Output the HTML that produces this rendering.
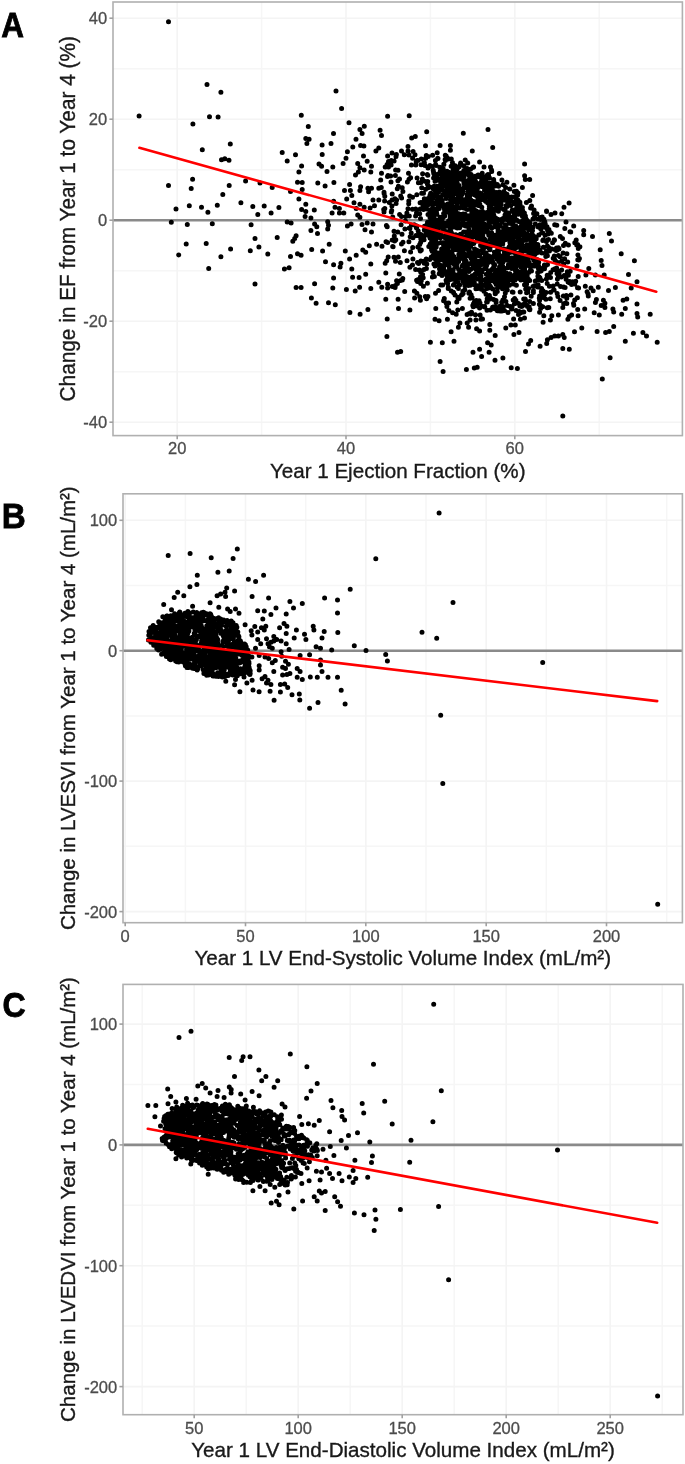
<!DOCTYPE html><html><head><meta charset="utf-8"><style>html,body{margin:0;padding:0;background:#fff;}svg{display:block}text{font-family:"Liberation Sans", sans-serif;}</style></head><body>
<svg width="685" height="1464" viewBox="0 0 685 1464">
<defs><filter id="bl" x="0" y="0" width="685" height="1464" filterUnits="userSpaceOnUse"><feGaussianBlur stdDeviation="0.75"/></filter></defs>
<rect width="685" height="1464" fill="#fff"/>
<g filter="url(#bl)">
<line x1="261.6" y1="2" x2="261.6" y2="435.6" stroke="#f6f6f6" stroke-width="1.5"/>
<line x1="430.4" y1="2" x2="430.4" y2="435.6" stroke="#f6f6f6" stroke-width="1.5"/>
<line x1="599.2" y1="2" x2="599.2" y2="435.6" stroke="#f6f6f6" stroke-width="1.5"/>
<line x1="113" y1="68.7" x2="682.4" y2="68.7" stroke="#f6f6f6" stroke-width="1.5"/>
<line x1="113" y1="169.7" x2="682.4" y2="169.7" stroke="#f6f6f6" stroke-width="1.5"/>
<line x1="113" y1="270.7" x2="682.4" y2="270.7" stroke="#f6f6f6" stroke-width="1.5"/>
<line x1="113" y1="371.7" x2="682.4" y2="371.7" stroke="#f6f6f6" stroke-width="1.5"/>
<line x1="177.2" y1="2" x2="177.2" y2="435.6" stroke="#f4f4f4" stroke-width="1.6"/>
<line x1="346" y1="2" x2="346" y2="435.6" stroke="#f4f4f4" stroke-width="1.6"/>
<line x1="514.8" y1="2" x2="514.8" y2="435.6" stroke="#f4f4f4" stroke-width="1.6"/>
<line x1="113" y1="18.2" x2="682.4" y2="18.2" stroke="#f4f4f4" stroke-width="1.6"/>
<line x1="113" y1="119.2" x2="682.4" y2="119.2" stroke="#f4f4f4" stroke-width="1.6"/>
<line x1="113" y1="220.2" x2="682.4" y2="220.2" stroke="#f4f4f4" stroke-width="1.6"/>
<line x1="113" y1="321.2" x2="682.4" y2="321.2" stroke="#f4f4f4" stroke-width="1.6"/>
<line x1="113" y1="422.2" x2="682.4" y2="422.2" stroke="#f4f4f4" stroke-width="1.6"/>
<line x1="113" y1="220.2" x2="682.4" y2="220.2" stroke="#8a8a8a" stroke-width="2.6"/>
<path d="M168.5 21.7h0M207 84.4h0M220.9 92.2h0M139.1 116h0M209.5 116.8h0M218.1 117.1h0M192.9 124.1h0M301.3 115.2h0M230.3 144h0M336 91h0M341.6 108.5h0M387.6 116.3h0M409.2 115.7h0M349 122.7h0M308.3 126.5h0M333.5 133.5h0M359.9 129.6h0M364.3 126.3h0M362.1 133.5h0M356 139.3h0M380.1 130.2h0M381.5 135.4h0M305.8 138.5h0M309.1 139.3h0M306.9 143.5h0M322.1 144.9h0M331 143.5h0M411.7 137.9h0M415.3 136.5h0M426.7 131.8h0M463.3 133.2h0M488 129.6h0M202.3 149.8h0M221.5 159.8h0M224.8 158.7h0M229 160.3h0M282.2 152.5h0M287.2 160.9h0M295.5 154.8h0M301.6 165.9h0M298.9 172h0M192.6 179.2h0M168.5 185.6h0M191.2 188.6h0M229.2 185.6h0M245.6 181.1h0M260 183.1h0M272.2 187.5h0M290.5 191.4h0M297.5 182.2h0M302.2 182.5h0M222.8 194.4h0M298.9 198.9h0M176 209.1h0M189.3 205.8h0M201.5 207.2h0M207.9 212.2h0M217.3 205.3h0M240.9 202.8h0M252.8 206.4h0M257.8 214.4h0M264.2 206.1h0M271.1 213h0M278.9 207.5h0M301.6 209.4h0M171.3 222.2h0M187.3 224.4h0M212.3 223.8h0M251.1 224.7h0M287.2 221.9h0M291.1 223h0M255 238.5h0M277.2 237.4h0M292.8 241.3h0M294.7 238.5h0M296.1 235.8h0M186.2 244.1h0M206.2 243.5h0M230.6 249.1h0M178.7 254.9h0M220.9 256.8h0M250.3 250.7h0M258.9 246.9h0M267.8 254.1h0M290.5 256.6h0M297.5 253.8h0M301.1 255.2h0M208.7 268.5h0M284.4 269.1h0M289.1 267.7h0M255 284h0M296.1 287.6h0M301.1 287.6h0M322.2 154.6h0M319 164.1h0M321.6 166.3h0M327 171.4h0M332.8 167h0M317.8 183.1h0M325.1 186h0M333.9 182.6h0M302.2 189.6h0M305.8 204.2h0M305.8 211.5h0M314.3 210.1h0M333.6 201.3h0M335 207.2h0M339.4 208.6h0M332.1 213h0M339.4 213h0M343.8 213h0M352.8 147h0M360.6 145.5h0M363.9 146.1h0M347.4 151.7h0M346 158.2h0M343.1 163.4h0M363.5 156.1h0M367.2 161.2h0M357.7 163.4h0M359.9 167.7h0M355.5 175h0M358.4 172.1h0M364.2 169.9h0M371.5 166.3h0M370.8 172.1h0M378.8 148h0M375.9 150.9h0M387.6 156.1h0M392 153.1h0M396.4 154.6h0M349.6 184.5h0M350.4 190.4h0M344.5 190.4h0M351.8 195.5h0M346.7 199.1h0M360.6 186.7h0M359.9 190.4h0M367.9 188.2h0M371.5 188.2h0M368.6 191.8h0M378.8 188.2h0M378.8 199.9h0M373 199.9h0M354 202.8h0M359.9 204.2h0M364.2 207.2h0M370.1 207.9h0M374.5 205.7h0M356.2 208.6h0M408 146.6h0M408 150.9h0M401.5 150.9h0M425.5 145.8h0M440.1 145.5h0M450.4 145.5h0M450.4 150.2h0M472.3 150.9h0M492.7 147.6h0M437.2 152.8h0M445.3 155.3h0M479.6 161.9h0M490.5 167h0M499.3 173.6h0M305.1 216.6h0M310.9 218h0M314.6 223.9h0M316.8 226.8h0M310.9 230.4h0M317.5 233.4h0M327.7 221.7h0M328.5 225.3h0M327.7 229h0M347.4 226.1h0M351.1 223.9h0M362 224.6h0M365 229.7h0M367.2 223.1h0M373 223.9h0M371.5 231.9h0M376.6 244.3h0M369.3 245.8h0M362.8 250.1h0M365.7 252.3h0M329.2 244.3h0M311.7 249.4h0M322.6 250.9h0M345.3 250.9h0M356.2 255.3h0M349.6 258.9h0M325.5 261.8h0M333.6 264.7h0M340.9 263.3h0M340.1 266.9h0M351.8 269.1h0M370.8 264h0M333.6 277.9h0M352.6 277.2h0M359.1 277.4h0M365.7 274.2h0M314.6 283.7h0M378.8 282.3h0M357.7 215.1h0M359.9 217.3h0M332.8 287.9h0M346.4 289.4h0M355.2 291.1h0M359.6 287.2h0M370.8 288.6h0M381.8 287.2h0M387.6 287.9h0M311.4 298.1h0M316.1 303.2h0M328.5 302.8h0M335.3 304.7h0M349.9 312.4h0M360.1 314.2h0M367.9 309.5h0M385.8 299.2h0M398.1 299.2h0M398.5 308.4h0M387.2 318.9h0M386.9 336.4h0M397.5 352.2h0M440.1 361.4h0M443.1 371.6h0M466.4 369.6h0M474.3 368.1h0M477.2 367.3h0M481.6 356.5h0M495 360.3h0M409.9 310.1h0M414.6 298.1h0M419.7 296.7h0M420.4 300.3h0M435.8 308.4h0M435 319.3h0M439.1 320.8h0M447.4 319.3h0M448.9 310.5h0M452.6 312.7h0M456.2 314.2h0M481 319.3h0M475.9 320h0M470.1 320h0M467.2 323h0M468.6 327.3h0M459.9 323h0M458.4 327.3h0M476.6 328.8h0M479.6 331h0M489.8 324.4h0M489.8 330.3h0M451.1 331.7h0M495.2 335.4h0M430.4 342.2h0M442.3 342.7h0M454 341.2h0M487.6 342.7h0M491.2 344.9h0M479.6 349.2h0M473 352.2h0M489.1 352.2h0M400.7 351.4h0M520.4 319.3h0M543.8 315.7h0M543.1 322.2h0M550.4 320h0M551.8 315.7h0M558.4 314.9h0M562.8 307.6h0M567.9 319.3h0M569.3 316.4h0M578.1 315.7h0M584.7 309.1h0M588.3 295.9h0M594.2 312.7h0M596.4 299.6h0M599.3 314.9h0M505.8 328.1h0M510.9 325.1h0M515.3 325.1h0M513.9 334.6h0M519 332.4h0M530.7 340.5h0M528.5 344.1h0M525.5 351.4h0M540.1 346.3h0M547.4 339.7h0M546.7 343.4h0M551.1 337.6h0M554.7 336.1h0M558.4 336.1h0M562.8 334.6h0M564.2 337.6h0M562.8 348.5h0M569.3 349.2h0M574.5 331.7h0M581.8 328.1h0M597.1 331.4h0M502.9 358h0M511.2 367.8h0M517.4 368.4h0M610.1 357.7h0M602.3 379h0M562.8 415.9h0M591 287.9h0M593.2 290.8h0M598.3 287.2h0M608.5 290.5h0M615.4 287.6h0M631.2 287.9h0M595.4 302.5h0M603.4 300.3h0M604.9 303.2h0M601.2 305.4h0M604.9 307.6h0M612.9 309.1h0M613.7 312h0M621.7 314.2h0M625.3 308.4h0M623.1 300.3h0M626.8 298.9h0M637 304h0M637 313.5h0M637.7 317.1h0M650.2 314.2h0M605.6 332.4h0M609.3 331.4h0M613.7 326.6h0M633.4 333.2h0M642.9 332.4h0M646.5 336.1h0M625.3 341.2h0M657.2 342.2h0M583.7 230.4h0M583.7 234.8h0M592.5 236.6h0M609.3 233.4h0M611.5 240.9h0M600.2 249.7h0M621.2 253.8h0M601.2 260.4h0M602 265.5h0M634.4 260.8h0M588.8 268.4h0M585.9 275h0M595.4 275h0M604.2 275h0M628.5 274.5h0M637 281.8h0M524.6 164.1h0M524.6 175.8h0M525.3 179.4h0M529.7 179.4h0M522.4 187.4h0M532.6 195.5h0M564 207.2h0M569.1 203.1h0M561.8 213.7h0M566 221.9h0M573.7 226h0M576.2 240.1h0M579.9 246.7h0M394.6 241.1h0M484.2 263.1h0M452.5 239.1h0M473.5 206.1h0M529.7 301.6h0M384 212h0M513.1 284h0M391.3 160.6h0M538.2 287h0M504.8 232.5h0M440.7 236.3h0M436.2 247h0M387.1 164.6h0M435.6 164.4h0M515.8 198h0M475.4 314.8h0M409 179.3h0M568.4 245.1h0M391.9 205.9h0M452.8 196.7h0M414.3 224.8h0M469.9 313.6h0M495.5 293.5h0M493.7 180.1h0M434.7 258.6h0M507.5 228.8h0M448.6 303.1h0M498.6 186.3h0M424.4 162.7h0M394 231.3h0M422.6 274.5h0M388.5 167.1h0M538.2 285h0M463.7 281.6h0M554.1 290.1h0M541.7 280.6h0M480.1 314.9h0M521.4 253.5h0M416.8 194.7h0M454.7 174.9h0M424.1 239.7h0M431.7 211.6h0M394.9 198.7h0M498.4 211.2h0M437.6 191.4h0M547.3 307.7h0M408.7 203.7h0M537.9 276.3h0M416.2 162.1h0M451.1 184.6h0M441.2 170.7h0M561.7 270h0M492.5 187.4h0M465.5 208.4h0M486.7 265.2h0M508.7 213.1h0M523.7 264.2h0M510.5 200h0M537.3 250.6h0M473.9 184.9h0M415 154.7h0M430.1 235.2h0M416.6 209.8h0M504.8 235.4h0M421.1 164.7h0M526.8 279.1h0M487.7 286h0M475.1 273.9h0M381.5 173.3h0M483.6 176.9h0M499.2 244.3h0M563.9 287.2h0M402.8 278.6h0M384.1 193.6h0M524.5 318h0M418.4 182.8h0M457.8 310h0M441.1 217.5h0M577.6 244.4h0M463.6 231.9h0M396.6 200.1h0M453.4 263.5h0M521.9 305.1h0M409.9 228.4h0M398 170.2h0M410.6 252.1h0M485.7 181h0M558.4 255.4h0M550.6 292.3h0M494.7 308.7h0M458.7 261.5h0M468.1 186.8h0M429.8 259.4h0M415.8 164.9h0M383.7 209.6h0M417.1 160.6h0M555 213h0M468.9 229.2h0M435 265.9h0M493.6 299.5h0M477.8 302.5h0M579.4 258.5h0M404.9 228.9h0M426.9 200.1h0M577.9 254.9h0M529.2 309.2h0M491.9 221.8h0M440 217.2h0M488.4 233.3h0M404.4 250.8h0M526.1 225.5h0M563.1 253.1h0M446.1 280.3h0M446.5 282h0M497.5 287.9h0M503.2 306.4h0M540.8 270.6h0M526.3 262.8h0M425 261.4h0M527.2 259.5h0M489.7 286.7h0M419.7 244.4h0M510.8 205.4h0M501 232h0M481.3 220.1h0M509.1 219.9h0M537.7 272.6h0M486.8 282h0M526.6 284.3h0M434.5 222.2h0M525.7 289.1h0M516.4 285.2h0M392.2 240h0M397.8 232.1h0M488.6 299h0M420.5 276.7h0M499 226.6h0M409.7 196.1h0M469.8 215.4h0M415.6 269.5h0M476.7 241.1h0M420.7 272h0M496.1 243.4h0M470.3 200.9h0M540.1 305h0M519.2 311.5h0M507.1 260.1h0M437.7 158.3h0M482.2 173.3h0M502.9 236h0M491.7 171.4h0M452.4 162.6h0M434.8 232.7h0M387.2 226.8h0M452.7 201.7h0M412.9 258.9h0M431.3 256.9h0M556.1 261.6h0M474.6 210h0M542.2 217h0M491.8 208.4h0M550.4 232.4h0M498 232.3h0M454.3 180.2h0M384.6 201h0M411.2 233h0M487.7 188.1h0M423 205.6h0M399.6 214.6h0M570 231.7h0M409.3 216h0M446.2 302.9h0M547.4 255.8h0M513.9 185.2h0M572.6 281.7h0M521.8 224.3h0M412.5 197.3h0M499.3 203.7h0M447 175.7h0M462.7 250.9h0M429.9 165.5h0M521.9 267.5h0M399.3 273.9h0M450.5 235.1h0M386.7 260.7h0M397.4 283.6h0M385.2 166.9h0M445.6 257h0M523.9 225.3h0M456.9 235.3h0M562.5 238.5h0M506.1 234.7h0M568.4 275.2h0M487 228h0M485.4 201.1h0M518 204.6h0M400.7 196h0M412.5 209.2h0M452.9 170.9h0M427.8 175.2h0M507 206.5h0M401.5 243.9h0M472.8 305.4h0M476.8 255.1h0M441.2 217.7h0M549.4 286.2h0M455.4 200.4h0M440 200.9h0M438.1 200.9h0M489.8 222h0M417.9 247h0M470 252.6h0M492.7 262h0M405.4 221.1h0M432.4 276.9h0M523.8 312.1h0M553.1 286h0M421.3 159.1h0M411.4 224.9h0M513.2 299.9h0M420.9 234.5h0M401.5 216.5h0M534.1 236.6h0M476.8 273.9h0M564.6 258.8h0M410.6 177.7h0M526.4 305.1h0M402.2 187.7h0M408 208.8h0M518 192.9h0M462.4 308.6h0M387.5 176.4h0M490.2 239.3h0M483.3 225.8h0M467.1 194.9h0M486 294.2h0M501.9 179.9h0M412.7 247.5h0M417.4 281.5h0M495.6 307.1h0M409.3 228.1h0M535.3 281h0M537.6 286.9h0M540.6 308.4h0M435.5 293.2h0M521.6 266.5h0M410.2 236.8h0M445.6 205.1h0M421.3 280.8h0M458.3 223.2h0M529.9 309.3h0M411.4 165.1h0M539.6 296.1h0M414.4 291h0M529.8 200.5h0M502.1 309h0M540.7 308h0M442 275.5h0M391.7 210.5h0M395.4 285.6h0M519.3 263.8h0M482 269.8h0M455.1 182.3h0M533.4 292.4h0M563.5 245.5h0M574.8 242.7h0M460.6 173.2h0M395.4 175.4h0M416.5 213.1h0M556.8 269.5h0M489.2 205.5h0M508 312.5h0M474.5 305.5h0M407.4 181.9h0M386.4 225.4h0M519.6 202.1h0M395.8 239.8h0M511.6 196.9h0M513.6 319h0M469.4 180.9h0M546.3 252.9h0M545.9 299.2h0M550.3 298.7h0M434.9 256.3h0M453.4 285h0M511 241.4h0M452.6 240.1h0M403 242.3h0M533 286.5h0M393.1 246.8h0M408.5 173.3h0M554.5 240.1h0M568.1 282h0M492.4 268.9h0M450 212.1h0M399.5 178.9h0M396 156.6h0M416.8 225.9h0M570.2 271.2h0M522.6 210.5h0M404.3 154.7h0M472.4 275.9h0M485.2 215.5h0M437.1 200.7h0M524.5 275.6h0M409.9 267.2h0M398.4 186.2h0M512.3 292h0M551 214.4h0M386 241.7h0M452.4 236.8h0M469.5 292h0M413.1 151.6h0M484.5 190.3h0M505.5 225.1h0M545.7 265.4h0M428 214.6h0M392.3 286.4h0M394.3 235.9h0M435 181.2h0M538 266.8h0M446.6 255.7h0M532 266h0M492.7 216.1h0M511.8 231.3h0M452.5 173.3h0M389.3 202.5h0M554.9 259.9h0M429.9 186.9h0M565.3 243.3h0M381.3 187.6h0M479.8 272.2h0M506.9 182.2h0M527.2 276.1h0M417.7 235.5h0M416.9 293.2h0M428.2 227.9h0M578.6 260h0M557.9 296.6h0M474.1 226.6h0M388.2 257h0M491.5 170.1h0M435.4 180.3h0M547.5 264.5h0M525.6 218.4h0M545.2 223.7h0M448.1 182.1h0M539.8 250.3h0M490.3 219.8h0M522.2 228.2h0M450.8 189.4h0M401.6 197.9h0M468.9 271.6h0M453.1 165.6h0M487.5 188.4h0M546.6 211.5h0M571.6 284.6h0M391.1 164.9h0M516.7 220.1h0M417.1 178.1h0M406.9 213h0M441 232.7h0M513.7 235.1h0M539.4 304.3h0M456.7 213.2h0M416 235.4h0M561.3 276.9h0M459.7 227.4h0M473.6 201.6h0M503.6 228.1h0M556.6 268.1h0M429.8 210.6h0M452.9 180.9h0M525.4 215.9h0M509 236.1h0M503.8 191.6h0M497.3 291.4h0M500.1 260.6h0M514.3 191.6h0M478.1 175.1h0M543.5 223.4h0M467.1 314.4h0M476.8 266.8h0M382 246.2h0M563.6 264h0M465.2 160h0M453.6 292.8h0M554.5 268.9h0M546.4 251.5h0M578.3 248.6h0M512.7 222.6h0M395.6 170h0M522.6 263.3h0M486.5 287.2h0M400.7 280.5h0M456.2 223.2h0M432.6 155.3h0M524.5 284.8h0M412.6 158.3h0M469.3 293.2h0M518.4 214.2h0M426.6 298.7h0M439.1 264.7h0M529.2 262.4h0M417.8 160.4h0M522.5 271.4h0M567.7 262h0M433.6 238.3h0M513.8 231.6h0M560.6 286.6h0M384 192.3h0M521.5 306.6h0M523.4 230.4h0M439.1 253h0M500.6 262.4h0M474.3 282.4h0M396.1 203.4h0M448.4 193.6h0M504.5 296.7h0M516.5 191.2h0M407 260.7h0M539.3 277.5h0M512.4 245.9h0M434.7 242.5h0M503 307.2h0M462.9 291.2h0M417.5 262.4h0M554.7 224.8h0M461.7 277.5h0M418.1 279.6h0M504.4 310.5h0M493.6 263.8h0M535 214.7h0M529.8 309.7h0M548 233.9h0M482.7 223.7h0M423.1 261.4h0M540.7 228.8h0M467 255.2h0M395.1 287.4h0M453.4 292.2h0M385.8 272.9h0M392.7 217h0M444.3 298.6h0M457.2 182.9h0M428 168h0M497.4 257.5h0M415.6 215.9h0M495.7 280.4h0M474.7 248.9h0M470.4 177h0M547.2 277.3h0M539.7 270.5h0M450.2 258.6h0M570.7 231.9h0M566.9 253.7h0M462.9 241.7h0M458.6 226.7h0M547.2 283.6h0M423.2 277.7h0M447.1 171.2h0M576.9 266.1h0M502.9 266.8h0M479.7 285.6h0M390.4 164.8h0M396.6 280.8h0M482.8 236.5h0M541.2 270.7h0M443.9 236.4h0M449.8 224.5h0M524.2 248.8h0M462.5 214.3h0M540.3 217.5h0M530.2 252.2h0M532.8 265.3h0M408.8 201.1h0M459.6 227.8h0M537.3 260.6h0M471.5 312.3h0M542.9 232.9h0M413 237.8h0M435.4 160.4h0M480 302.9h0M473.7 243.4h0M524.7 268.2h0M499.5 268.9h0M556.8 225.2h0M451.3 290.9h0M380.7 179.9h0M482.5 319.1h0M484 166.9h0M522.8 312.1h0M548.8 307.6h0M463.6 281.5h0M530.6 208.1h0M574.7 283.9h0M543.9 297.8h0M430.3 199h0M577.5 287.8h0M465.1 271.1h0M558.3 274.9h0M477.9 288.5h0M444.1 177.7h0M525.4 299.8h0M481.4 289.3h0M438.6 290.4h0M534.2 217.7h0M544.8 221.8h0M397.3 188.7h0M423.4 286.3h0M497.8 249.7h0M456.8 301.9h0M438.8 235.1h0M527.4 223.9h0M390.6 176.1h0M544.5 268.7h0M481.8 207.2h0M434.4 176.1h0M518.5 314.5h0M509.3 216.1h0M454.7 182.7h0M528.6 229.8h0M465 224.3h0M445.9 185.8h0M392.7 246.5h0M539.4 279.9h0M553 269.7h0M392.2 193.9h0M468.3 314.1h0M489 195.9h0M519.5 206.5h0M490.4 298.1h0M564.8 228.4h0M541.7 232.7h0M506 200.4h0M391.3 211.9h0M464.3 176h0M537.8 279.7h0M475.2 255.7h0M443 260h0M486.4 217.7h0M546.5 211h0M525.1 280.6h0M408.9 241.8h0M455 295.1h0M577.8 259.8h0M388.5 161.5h0M467.7 162.9h0M492.8 288.9h0M391 182h0M502.6 218.7h0M576.7 245.1h0M563.4 296h0M466 282.3h0M412.5 264.9h0M409 155h0M506.8 289h0M416.6 280.2h0M542.7 306.8h0M499.7 282.4h0M487.1 175.2h0M476.8 195.6h0M420.9 261h0M547.2 240.2h0M416.7 228h0M394.1 161.1h0M451.4 232.8h0M500.7 193h0M463.3 238.8h0M455.4 185.1h0M425.3 296.5h0M448.6 172.3h0M527.6 281h0M405.8 216.6h0M491.8 260h0M469.7 236.1h0M496.2 284.5h0M502 311.1h0M398.3 256.9h0M418.6 263.4h0M469.4 176h0M427.9 296.5h0M446.9 306.6h0M475.4 181h0M470.8 314h0M482.9 252.4h0M509.9 242.3h0M457.4 278.1h0M479.6 307.9h0M557.5 270.6h0M548.5 239.6h0M520.2 292h0M436.1 239.2h0M436.9 188.1h0M467 233h0M394 257.2h0M529 236.5h0M433.2 209.3h0M384.8 196.2h0M560.3 236.4h0M520.4 313.1h0M416.4 227.7h0M420.7 283.6h0M424.2 263.3h0M539.6 312.2h0M451.1 166.2h0M421.3 250.1h0M402.3 280.1h0M490.2 245.9h0M395.5 261.2h0M506.7 218.5h0M498.4 251.6h0M570.9 294.9h0M448.7 225.5h0M415.7 208.9h0M449.2 279.9h0M529.1 306.8h0M459.6 192.8h0M418.2 231.1h0M455.4 207.2h0M426.3 155.5h0M526.5 256.5h0M490.1 183h0M385.2 263.3h0M486.6 302.1h0M470.9 256.4h0M420.6 242.6h0M449.5 279.2h0M481.8 246.1h0M539.3 298.3h0M500.8 197.6h0M502.1 257.2h0M441.1 180.2h0M458 173.5h0M471.5 238.5h0M455.9 218h0M470.1 194.3h0M397.9 180.7h0M387.6 242.4h0M522.4 229.5h0M496.9 259.1h0M515.4 270.5h0M567.3 271.8h0M541.3 291.7h0M482.9 177.8h0M526.1 224.5h0M479.8 239.9h0M505.9 301.5h0M463.5 224.2h0M440.5 253.8h0M404.7 291.5h0M402.9 191.5h0M472.1 297.5h0M481.4 219.4h0M578.2 276.6h0M520.5 252.1h0M424 269.4h0M550.7 272.6h0M468.9 293.3h0M427.4 283.2h0M468.1 199h0M456.8 180.2h0M557.2 293.6h0M400.3 262.4h0M401.1 224.8h0M402 234.3h0M548.9 229.4h0M384.8 208.6h0M463.1 293.5h0M388 175.6h0M485.9 265.3h0M534.3 285.8h0M419.5 270h0M506.3 273.1h0M443.6 300.8h0M493.5 267.5h0M387.6 284.2h0M537.7 244.6h0M459.1 298.6h0M392 199.9h0M534.6 240.3h0M439.9 199.4h0M457.3 263.1h0M491 197.5h0M513 292.3h0M486 283.7h0M451.8 225.3h0M499.3 194.2h0M496 300.6h0M473.4 242.4h0M470.2 184.2h0M522.5 216.4h0M507.3 305.5h0M420.2 250.6h0M458.4 288.4h0M480.8 227.2h0M425.6 189.2h0M453.5 177.3h0M497.4 310.8h0M482.2 215.5h0M516.3 276.1h0M495.4 245.8h0M464.3 271.5h0M538.3 246.8h0M472 276h0M493.6 179.5h0M419.9 249.4h0M519.9 306.1h0M445.1 207.5h0M479.4 269.4h0M518.7 221.6h0M530.1 223.3h0M560.1 256.8h0M509.5 220h0M491 259.6h0M539.9 277.8h0M441 242.6h0M517 192.8h0M467.4 254.7h0M465 274.7h0M422.6 173.8h0M522.4 207.6h0M487.1 288.4h0M523.7 298.9h0M542.8 240.4h0M540.3 297.6h0M471.5 188.7h0M470 278.4h0M501.1 204.2h0M524.6 248.8h0M434.2 218.3h0M497.3 310.2h0M455.8 210.7h0M533.1 236.8h0M468.9 255.9h0M446.9 189.9h0M499.7 245.1h0M475.3 255.6h0M454.5 237.4h0M499.2 275.4h0M420.3 251.1h0M483.1 242.4h0M425.9 231.9h0M425.7 158.2h0M439.8 167.3h0M520.8 256.4h0M509.9 197.4h0M434.8 174.7h0M488.7 283.4h0M529.8 246.2h0M434 203.9h0M497.5 279.8h0M485.3 256.2h0M437.5 179.1h0M427.1 224.5h0M513 233.2h0M448.2 288.4h0M479.9 255.9h0M440 271h0M536.9 213.7h0M453.5 273.7h0M456.5 183.1h0M531.5 271h0M473.6 167h0M505 214.9h0M489.4 177.7h0M445.9 231.6h0M525.1 298.9h0M524.2 272.7h0M529.6 238.7h0M503.1 258.6h0M538.8 235.1h0M505.3 216.1h0M458 298.5h0M477 221h0M465.4 183h0M453.7 201.4h0M489.7 258.7h0M452.6 182.4h0M504.3 273.5h0M542.9 227.2h0M462 201h0M517.9 200h0M426.8 263.9h0M428.8 246.6h0M463.7 207.9h0M422.4 178.9h0M451.3 159.1h0M465.7 181.8h0M476.3 300.6h0M517.6 195.3h0M496.2 204.5h0M524.8 303.4h0M453.1 270.3h0M518.5 303.5h0M549.1 276.4h0M499.9 306.2h0M480.8 193.5h0M488.2 218.6h0M464.4 170.9h0M428.2 156.6h0M534.1 209.9h0M494.1 182.6h0M491.4 198.8h0M513.3 210.8h0M546.9 228.7h0M492.4 196.7h0M504.1 249h0M529.2 236.1h0M557.4 279h0M430.1 235h0M543.4 247.3h0M540.8 228.1h0M512.4 246.9h0M462.2 266h0M513.3 237.4h0M544.5 294.7h0M448.6 251.5h0M459.6 285h0M557.3 250.1h0M473.5 178.6h0M512.5 276.3h0M427.7 181.4h0M421 182.6h0M426.4 268.4h0M475 195h0M545.8 256.4h0M557 273.5h0M546.5 250.8h0M424.7 235.4h0M470.5 169.2h0M529.7 280.4h0M451.7 258h0M514.6 298.4h0M559 249h0M436.2 209h0M482.3 182h0M489.7 217.2h0M463.3 246.9h0M470.7 207.7h0M493.1 280.1h0M549.4 251.1h0M489.7 199.1h0M475.9 288.7h0M511.4 232.4h0M485.9 181.3h0M434.4 276.6h0M499.6 307.6h0M450.3 205.8h0M528.5 279.2h0M538.2 227.1h0M554.9 249.4h0M474.4 301.8h0M427.9 231.3h0M542.6 296h0M541.9 253.1h0M547.6 230.3h0M464.3 256.1h0M461.5 294.9h0M423.4 209.4h0M512.8 229.8h0M539.6 300.2h0M476.9 225.2h0M453.3 208.1h0M561.7 261.2h0M474.1 228h0M512.3 249.6h0M480.3 176.4h0M461.1 234.9h0M514.7 219.8h0M496.2 235.5h0M497.3 184.4h0M467 198.5h0M459.6 251.1h0M457.1 274.9h0M473.5 303.8h0M451.9 195.8h0M499.9 276h0M543 290.8h0M467.5 216.2h0M430.2 244h0M515.2 196.4h0M430 215.7h0M496.9 221h0M479.1 300.7h0M527.2 245.2h0M470 191.8h0M507.6 253.9h0M439.9 256.4h0M467.4 224.3h0M508.2 267.1h0M456.7 219h0M451 246.3h0M454.3 199.6h0M516.7 227.5h0M472 263h0M432.1 166.4h0M530.3 251.1h0M435.3 190.9h0M527.4 239.6h0M501.2 279.1h0M433.5 171.7h0M537.6 219h0M537 259.6h0M443.7 270.5h0M527.5 306.4h0M533.4 290.7h0M438 158.5h0M493.2 213.6h0M518 231.8h0M439.9 205.8h0M442.1 200.4h0M462.7 256.9h0M518.9 275.7h0M447.8 182.7h0M475.3 264.9h0M471.1 294.7h0M464.7 260.6h0M504.9 252.4h0M539.5 278.2h0M439.2 273.7h0M453.9 284.6h0M426.1 259.3h0M496.1 302.4h0M484 198.6h0M448.4 173.3h0M535.3 224.1h0M517.5 262.1h0M511.3 244.9h0M471.1 174.6h0M526.6 292.8h0M442.7 194.9h0M538.7 262.3h0M450.8 173.6h0M554.2 239.7h0M482 264.5h0M538.2 268.1h0M420.8 238.8h0M446.2 156h0M547.3 246.1h0M427.3 174.4h0M554.3 256.1h0M420.1 202.7h0M430.8 211.9h0M457 174.8h0M519.7 235.8h0M446.9 233.9h0M514.4 257.9h0M487.9 178.2h0M444.5 209.5h0M448.1 159h0M457.3 249.2h0M465.3 201.4h0M420.2 209h0M546.1 292.6h0M551.3 233.2h0M467.1 168.6h0M487.2 298.8h0M439.2 208.5h0M474.4 236.4h0M481.9 195.6h0M519 240h0M486.1 225.3h0M440.9 285h0M473 282.6h0M450 228.5h0M436.9 178.7h0M460.2 207.4h0M488 174.5h0M504.1 275.9h0M426.2 225.7h0M448.4 275.1h0M459.6 245.4h0M521.6 227.7h0M424.3 230h0M454.2 199h0M433.6 243.5h0M462.6 203.2h0M517.7 212h0M558.2 275.6h0M464.4 246.9h0M482.5 235.5h0M446.3 259.2h0M490.5 227.6h0M434.8 233.2h0M510.5 217.8h0M513 264.7h0M440.3 171.3h0M457.1 287h0M466.8 242.7h0M501.7 302.2h0M475.1 181.4h0M438 197h0M533.9 256.1h0M473.3 306.7h0M443.9 164.5h0M520 233.8h0M464.8 289.7h0M490.4 310.1h0M475.1 274.9h0M455.1 187.9h0M476.2 186.7h0M508.2 236.9h0M445.4 160.6h0M515 274.6h0M512 262.4h0M501.4 276.4h0M472.5 268.3h0M521.9 242h0M477.2 305.9h0M518.8 272.9h0M436.1 165.4h0M469.3 253.3h0M476.5 196h0M491.4 277.5h0M480.5 197.7h0M433.4 198h0M548.7 247.5h0M495.4 276.6h0M449.2 267.2h0M553.2 258.2h0M527.9 292.2h0M488.3 232.2h0M483.6 238.7h0M515.9 300.3h0M461.3 271.7h0M500.7 207.5h0M520.1 204.8h0M505.3 276.9h0M460.3 164.4h0M510.9 260.3h0M457.2 228h0M543.9 219.2h0M511.6 309.1h0M433.6 178h0M484 263h0M465.2 243.8h0M476.1 249.9h0M490.4 274h0M462.2 205h0M429.3 213.7h0M505.3 293h0M465.6 247.9h0M485.8 227h0M519.9 202.2h0M427.3 199.1h0M447.7 158.3h0M433.1 272.5h0M441.3 252.9h0M531.1 254.6h0M465.3 170.2h0M469.3 250.5h0M444.8 181h0M426.2 259h0M453.7 188.9h0M510.3 306.4h0M495.2 292.7h0M488.6 175.3h0M424.4 226.2h0M477.9 264.2h0M425.5 202.9h0M486.6 274.3h0M505.4 283.1h0M447.6 283.5h0M502.2 222h0M547.2 275.2h0M500 311h0M445.3 226.4h0M533 227.3h0M509.8 189h0M507.3 290h0M486.4 274.4h0M456.8 238.5h0M432.1 215.2h0M529.4 247.8h0M455.3 213.6h0M549.1 231.1h0M443.8 164.3h0M439.2 188.4h0M503 184.7h0M462.1 188.9h0M435.1 246.2h0M504.8 219.3h0M465.5 263.9h0M450.9 260.9h0M443.1 230.1h0M493.2 198.3h0M458.9 197.1h0M482.2 306.3h0M448.3 287.2h0M442.6 285.1h0M528 260.6h0M557.1 272.3h0M456.5 249.8h0M482.5 249.5h0M541.6 288.6h0M443.6 268.1h0M462.2 294.2h0M505.6 187.4h0M552.6 242.8h0M498.4 272.6h0M445.1 159.6h0M484 291.3h0M530.4 228.2h0M463.9 165.8h0M490.6 185.4h0M502.5 288.8h0M541.6 292.7h0M543.8 267.4h0M481.4 186.4h0M451.2 223.3h0M471 268.9h0M431.9 236.2h0M508.4 264.7h0M531.2 296.3h0M455.5 227h0M531.5 206h0M551.7 248.9h0M478.8 225.7h0M525 228.2h0M508.5 280.1h0M549 231.7h0M474.6 249.7h0M435.8 212.4h0M420.5 218.4h0M482.4 228h0M491.2 206.7h0M537.7 252.6h0M460.9 219.3h0M539.2 277.1h0M464.8 285.6h0M515.7 254.7h0M536.7 253h0M524.8 240.3h0M524.8 270.6h0M540 224.8h0M459.2 166.8h0M511.2 279.7h0M546.4 241.6h0M478.7 267.8h0M479.1 200.7h0M528.5 288.6h0M489.4 295.5h0M471.4 205.3h0M483 186.3h0M437.9 257.5h0M432.8 217.8h0M421.4 202.5h0M450.2 217.2h0M509.4 285.3h0M432.3 196h0M449.8 188.6h0M550.5 277.4h0M527.4 256h0M473.8 211.6h0M483.3 239.4h0M423.8 236.6h0M490.7 270.4h0M502.7 243.9h0M459.1 177.1h0M502.6 256.1h0M443.2 168.7h0M485.5 279.3h0M453.7 263.7h0M452.3 226.7h0M533.4 303.5h0M545.1 235.2h0M442.4 188.8h0M540.5 219.6h0M466.5 242.2h0M524.4 213.1h0M457.4 192.4h0M454.5 178.8h0M498 194.6h0M442.2 258.7h0M425.7 181.6h0M539.4 278h0M547 226.8h0M528.8 262.8h0M530.5 254h0M483.5 230.7h0M444.5 215.7h0M426.9 208.9h0M487.9 259.5h0M493.7 307h0M533 218.9h0M494.7 264.9h0M495.2 293.7h0M464.3 270.2h0M473.4 178.8h0M529.9 249h0M454.5 218.5h0M470.1 298.3h0M427.5 222.3h0M487.6 279.2h0M433.9 263.9h0M493.6 211.1h0M497.1 244.7h0M449.3 221.3h0M454.1 263.3h0M502.9 299.9h0M431.8 248.1h0M421.7 187.7h0M512.6 231.8h0M538.4 265.6h0M532.5 230.6h0M558.4 247.7h0M484.8 307.1h0M451.2 177.9h0M556.2 250.5h0M425 165.4h0M458 297.3h0M450.6 257.1h0M450.8 274.8h0M536.1 260h0M539.1 266.9h0M512.9 231h0M450.5 184.6h0M524 221.4h0M433.8 234.9h0M471.1 235.7h0M433.7 173.2h0M450.4 226.4h0M502 200.5h0M533.6 213.5h0M496.1 227.1h0M436.8 174.8h0M514.4 303.8h0M514.9 203.7h0M517.7 237.8h0M501.4 259.9h0M444.7 215.9h0M476.4 204.3h0M503.5 240.4h0M428.1 198.5h0M506.7 205.2h0M424.3 198.7h0M484.6 306.5h0M441.3 178.8h0M517 195.3h0M437.2 261.1h0M543.8 295.3h0M488.1 247.1h0M501.2 197.4h0M512.8 224.1h0M558 262.6h0M445.8 264.5h0M536.2 238.7h0M517.1 247.3h0M482.4 229h0M488.5 298.8h0M453.3 277.1h0M496.6 192.9h0M449.3 263.6h0M557.9 271.2h0M480 277.1h0M452.3 254.5h0M488.7 288.1h0M480 176.9h0M451.3 196.3h0M487 310.3h0M546.4 279.1h0M542.4 292.6h0M489.2 299.2h0M540.4 271.3h0M503.6 260.1h0M497.4 255.2h0M508.7 250.9h0M526.4 202.6h0M455.2 165.7h0M520.3 272.7h0M556.5 247.9h0M543.3 239.7h0M523.4 257.1h0M481.1 231.4h0M460.6 162.9h0M472.8 167.4h0M424.9 205.5h0M421.7 193.2h0M519 207.3h0M514.8 226.1h0M554.2 240.4h0M516.1 310.6h0M464.4 184.1h0M516.4 255h0M468.4 285.5h0M497.9 245.1h0M463.9 170.5h0M451.8 239.8h0M477.7 183.6h0M509.9 275.5h0M481.4 231.6h0M492.6 307.3h0M528.5 236.3h0M559.1 274h0M459.9 270.6h0M516.1 204.2h0M428.1 187.8h0M460.4 234.2h0M557.3 249.3h0M443.3 248h0M472.1 190.4h0M453.1 168.8h0M487.8 244.3h0M534.8 261.9h0M419.7 213.8h0M471.7 279.5h0M509.3 201.7h0M488.3 271.1h0M513.4 279h0M512 307.1h0M468.6 247.2h0M522.3 306h0M523.7 304.6h0M434.5 256.8h0M487.3 302.1h0M427.4 184.1h0M461.5 190.6h0M433.2 170.3h0M544.4 265.1h0M423.5 193.3h0M468 181.2h0M531 245.7h0M516.9 205.9h0M461.4 278.5h0M428.9 235.6h0M475 190.1h0M476.8 195.4h0M471.8 282.6h0M532.7 258.3h0M481.6 178.4h0M487.3 189.2h0M477.6 175.8h0M516.5 213.9h0M439.6 179.3h0M440.7 183.3h0M470.7 231.9h0M492.1 197.3h0M435.4 224.8h0M474.4 284.7h0M482.5 260.2h0M469.9 192.2h0M505.9 253.1h0M456.8 215.5h0M471.1 179.7h0M484.9 196.7h0M452.9 226.8h0M465.9 201.1h0M505.2 260.1h0M500.1 208.4h0M451.7 211.2h0M433.8 238.1h0M508.6 248h0M526.9 239.4h0M502.9 195.5h0M459.7 218.6h0M446.5 211.7h0M436.4 180.6h0M462.9 192.5h0M516.4 227.3h0M472.9 253.3h0M463.1 277.6h0M489.3 217h0M430.1 195h0M463.3 246.9h0M434.4 257.1h0M461.7 194.7h0M441 265.4h0M521.6 250.1h0M492.8 275.2h0M502.9 256.2h0M466 236.7h0M462.7 189.5h0M433.9 188h0M431.2 227h0M458.2 192.3h0M503.9 209.5h0M450.7 231h0M473.8 180.7h0M437.7 233.8h0M467.8 226h0M451.1 201.5h0M435 233.9h0M438 204.9h0M508.4 284.2h0M467.9 216.8h0M488.9 276.9h0M452.9 192.9h0M430.7 221.3h0M458.2 275.8h0M499.2 192h0M488.9 248.2h0M514.4 259.4h0M443.1 228.3h0M480.7 216.4h0M516.4 252.9h0M498.7 207.5h0M473.3 266.6h0M488.8 235.3h0M511.3 243.9h0M454 258.2h0M521 267.1h0M472.5 220.5h0M505.3 232.9h0M488.1 190.3h0M455.5 238.5h0M448 247.8h0M502 267.4h0M453.3 181.8h0M520 271.7h0M434.2 254h0M526.6 226.7h0M528.7 250.6h0M509.3 246.8h0M492 194.2h0M466.1 255h0M471.3 188.7h0M518.6 240.5h0M429 204.4h0M481.5 260.5h0M497.7 192.7h0M480.7 236.6h0M513.3 252.3h0M477.2 188.4h0M457.1 192.8h0M515.8 247.8h0M484.1 185.3h0M466.6 232.5h0M445.8 252.9h0M517.4 235.2h0M430 217.4h0M456.1 185.1h0M472.7 215.5h0M501.8 278.5h0M451.3 206.7h0M499.1 192.4h0M481.6 186.6h0M536 262.5h0M477.5 217.2h0M442.3 202.7h0M464.2 187.4h0M441 269.5h0M483 177.8h0M461.1 243.7h0M439.4 219.8h0M496.5 192.4h0M494.9 282.2h0M499.6 259.4h0M481 275.8h0M471.5 223.1h0M456.3 185.9h0M441.2 196.9h0M527.3 234h0M488.6 196.8h0M489.1 187.4h0M510.2 238.2h0M458.8 254.5h0M463.3 250.5h0M458 199.8h0M494.4 252.3h0M461.9 172.8h0M478 278.9h0M466 187.5h0M473.3 279.4h0M450.4 238.8h0M494.7 223.8h0M447 186.6h0M483.1 213.6h0M489.5 210.4h0M492.8 220.6h0M517.2 231.6h0M505.1 238.1h0M497.7 238.9h0M477.5 205.1h0M437 222.9h0M521.1 213.2h0M453.5 256.4h0M478.2 236.1h0M477.3 193.8h0M534.4 249.2h0M456.3 199.8h0M527.1 244.8h0M435 258.3h0M430.9 247.5h0M490.8 243.4h0M431.4 209.8h0M495.7 239.6h0M445.9 206.7h0M455.3 192h0M489.7 183.2h0M505.2 208.5h0M467.6 276.7h0M520 258.3h0M488.4 262.5h0M472.5 255h0M511.7 244.7h0M482.4 250h0M498.3 273.9h0M503.9 280.3h0M524 232.4h0M480.8 229.7h0M443.6 245.2h0M534.6 249.9h0M498.1 198.3h0M529.1 253.8h0M482.1 272h0M431.5 215.9h0M447.8 184.2h0M499.2 205.1h0M511.7 258.2h0M446.9 209h0M528.6 227.9h0M437.7 196h0M465.1 232.1h0M534.5 250.3h0M530.8 245.2h0M503.1 274.9h0M526 235.4h0M490.3 286.2h0M533.5 236.4h0M499.5 266.9h0M441.1 270.3h0M467.6 278.9h0M510 240.6h0M432.8 202.5h0M511.1 241.3h0M507 194.3h0M458.7 239.4h0M531.2 254.9h0M468.8 244.4h0M446 263.1h0M457.8 198.5h0M498.2 287.2h0M452.6 250.7h0M474.9 191.1h0M489.2 258.6h0M431.6 240.3h0M494.9 203.5h0M485.2 268.6h0M450.1 191.9h0M534.5 266h0M519 278.6h0M494.9 186.1h0M442.2 172.2h0M486.3 245.9h0M439.8 186.1h0M433.1 231.5h0M462 224.1h0M465.3 214.3h0M437.2 237h0M466.3 232.6h0M450.9 177.8h0M474.1 216.4h0M503 267.8h0M486.3 215.8h0M484.4 184.8h0M489.8 239.4h0M480.8 282.2h0M474 187h0M444.9 206.6h0M492.8 214.3h0M525.2 237.4h0M451.7 204h0M493.1 220.6h0M469.6 196.8h0M479.4 287.4h0M444.3 176.1h0M456.9 204.4h0M485.4 230.9h0M515 279.9h0M437.7 224.3h0M444.6 251h0M470.2 209.4h0M432.3 220.8h0M451.2 219.8h0M515 265.9h0M490.2 190.7h0M433.4 188.9h0M519.5 243.3h0M491.6 187.6h0M490.3 236.9h0M472.4 275.7h0M441.7 190.1h0M510.4 279.5h0M493.4 203.6h0M483.8 258.4h0M474 215.3h0M450.2 275.1h0M511.7 268.6h0M504.2 217.7h0M483.5 239.8h0M476.1 216.7h0M454.8 267.2h0M507.5 267.7h0M432 231.9h0M531.1 248.5h0M449.6 269.5h0M445 248.4h0M450.9 232.1h0M479.7 223.4h0M484.6 239.2h0M442.3 258.4h0M443.7 223.9h0M450.6 200.1h0M491.4 233.3h0M451.1 222.1h0M453.8 249.7h0M457.7 281.9h0M481.1 241.8h0M522.8 230.9h0M514.2 218.9h0M468.3 284.8h0M476.7 287h0M436.5 212.3h0M511.8 217.4h0M481.2 182.1h0M435.9 231.5h0M472.1 220h0M436 241.9h0M475.2 176.3h0M515.6 241.9h0M445.8 258.6h0M504.4 252.4h0M440.8 204.2h0M463 264.9h0M486.2 244h0M445.8 181.4h0M465 218.4h0M459 225.9h0M523.2 259.2h0M439.9 203.8h0M435.1 250.7h0M495.2 221.9h0M487.5 279.1h0M446.6 253.8h0M434.1 186.2h0M490.6 259.1h0M483.9 279.9h0M466 282.4h0M434.9 244.4h0M484 181.3h0M470.4 190.4h0M430.4 231.1h0M503.8 198.6h0M530.5 269.6h0M463.6 213.9h0M464.5 270h0M441.6 249h0M461.4 216.5h0M449 211.3h0M474.2 219.9h0M446.4 197h0M521.5 240h0M445 223.2h0M463.6 200h0M514.4 260.6h0M474.5 261.5h0M505.2 210.4h0M490 249.8h0M508.1 278.8h0M464.5 254.1h0M461.7 252.3h0M440.4 237.8h0M499.9 262.6h0M493.8 276h0M521.6 233.7h0M430.2 231.6h0M476.4 190.8h0M481.9 215.2h0M433.7 213.6h0M467.4 266.2h0M522.2 221.3h0M510 198.1h0M465.8 216.1h0M519.2 209.1h0M483.7 224.9h0M449.3 195.4h0M459.8 194.8h0M532.9 237h0M478.3 226.8h0M482.9 240.7h0M488.3 260.8h0M512.1 239.2h0M456 178.1h0M481.7 242.3h0M468.5 283.7h0M483.6 225.6h0M457.9 195h0M460 258.7h0M462.4 217.3h0M480.5 225.9h0M461.4 234.9h0M520.3 247.8h0M484.1 186.7h0M463.8 245h0M514.1 251.2h0M433.2 255.6h0M498.1 248.7h0M512.2 228.3h0M509.9 252.4h0M466.2 269h0M449.8 189.2h0M444.1 207.3h0M475.9 233.3h0M436.1 259.4h0M458.3 196.7h0M434.5 208.9h0M472.2 211h0M482.6 211.4h0M432.2 251.3h0M453.5 227.1h0M453.5 276h0M430.2 213.9h0M497.5 270.8h0M476.3 230.4h0M459.3 175.6h0M507.4 220h0M509.8 267.3h0M437.1 204h0M440 185.7h0M518.4 263.9h0M452.2 259.7h0M472.7 187.1h0M463.4 216.4h0M463.3 258.4h0M527.9 257.3h0M458.6 237.7h0M485.7 259h0M475.3 213h0M458.6 257.9h0M510.9 250.5h0M469.7 219.6h0M432.8 230.6h0M487.3 186h0M455.1 238.6h0M481.8 225.4h0M506 205.8h0M498.6 219.8h0M483.9 196.6h0M464.4 263.2h0M438.6 191.3h0M492.7 279h0M505.8 285.4h0M486.1 253.1h0M498 223.9h0M479.9 204.4h0M477.4 176.1h0M507.5 255.8h0M499.3 273.5h0M497.7 283.7h0M512.5 263.4h0M521.6 225h0M481.4 197.4h0M468.5 250.4h0M446.1 181.9h0M465.5 226.1h0M514.4 203.7h0M504.2 218.3h0M448.1 255.4h0M487.6 202.7h0M511.1 265.3h0M468.6 280.2h0M445.3 251.3h0M508.8 235.4h0M489.7 223.2h0M435.7 235.4h0M445.4 209.4h0M514.4 265.2h0M459.8 272.7h0M481.6 194.7h0M451.9 279.2h0M457.8 243.7h0M447.1 276.1h0M492.7 213.4h0M470.2 225.5h0M441.4 221.1h0M454 219.2h0M455.5 241.8h0M483.6 232.4h0M452.9 210h0M478.4 204.6h0M458.6 238.3h0M470.8 281.7h0M452.9 274.8h0M466 261.1h0M449.4 194.2h0M454.5 262.4h0M449.7 256.5h0M453.8 173.8h0M486 192.1h0M499.1 236.4h0M516.1 202.6h0M459.6 208.1h0M469.4 202h0M456 193.8h0M467.5 264.7h0M444.1 193.3h0M454.8 223.9h0M519.3 242h0M449.5 275h0M505.1 199.3h0M443.7 185.7h0M459.1 185.6h0M533.1 235.5h0M456.9 218.1h0M526 224.1h0M472.1 260h0M447.9 184.8h0M470.3 219.5h0M453.8 256.4h0M512.3 267.8h0M440.8 173.4h0M513.6 265.9h0M450.3 224.1h0M520.1 212.9h0M510.1 263.9h0M531.2 250.8h0M459 174.7h0M450.5 226.6h0M455.4 234.8h0M509.8 240.9h0M533.9 245.9h0M500.9 219.5h0M493.2 210.2h0M522.2 225.5h0M466.8 255.8h0M477.3 287h0M489.1 260.6h0M468.3 255.3h0M470.6 269.4h0M503.6 283.1h0M514.4 211.2h0M469.2 218.2h0M437.7 243.4h0M506.5 252.7h0M439.1 173.9h0M497.7 273.6h0M505.2 239.8h0M520.6 232.7h0M437.4 188.4h0M508.9 203h0M490.9 195.3h0M455.7 174.4h0M511.7 258.1h0M461.7 199.6h0M477.9 223.3h0M452.7 257.8h0M466.9 255.8h0M501 248.9h0M507.6 232.9h0M445.7 181.6h0M487.8 278.4h0M525.8 218.6h0M475.9 177h0M529.8 249.6h0M446.5 245.4h0M490.3 215.2h0M478.3 233.8h0M492.3 276.2h0M476 233.5h0M465.1 256.9h0M448 194.6h0M470.6 237.6h0M463.2 191.5h0M506.6 253h0M468.5 278.2h0M525.3 251h0M450 214.1h0M528.8 222.1h0M498.1 230.3h0M497.8 275.9h0M526.9 278.4h0M445.1 237.8h0M465.2 245.9h0M478.3 205.5h0M450 239.7h0M437.6 186.8h0M487.5 216h0M452.3 192.7h0M478.8 234.3h0M496.4 204.5h0M464 215.7h0M515.8 267h0M462.8 191.1h0M461.8 177.9h0M467.2 183.8h0M456 260.8h0M471.4 258.7h0M520.9 279.9h0M488.5 224.1h0M480.4 193.2h0M479.7 212h0M480.9 199.9h0M502.8 262.5h0M450.9 223.4h0M529.2 227.4h0M523.3 213.1h0M461.4 179.3h0M461.1 250.5h0M464.4 199.8h0M453.3 258.8h0M512.1 280h0M431.5 203.8h0M516.6 270.3h0M492.7 196.5h0M437.3 227.3h0M468.1 172h0M488.5 279.4h0M469.3 263.7h0M435.1 256h0M466.5 271.2h0M474.5 193.8h0M476.1 269.6h0M443 186.3h0M481.7 198.1h0M520.8 226.8h0M442.1 219.3h0M529.3 247.9h0M478.3 270.7h0M494.3 236.7h0M507.5 196.3h0M520.4 266h0M487.2 196.1h0M438.2 228.7h0M534.6 242.5h0M501.5 285.7h0M486.1 267h0M471.4 206h0M453.5 212.1h0M527.8 249.8h0M478.2 184h0M448.6 220.8h0M470.3 285.2h0M460.1 255.1h0M486 201.5h0M450.4 237.8h0M481 223.6h0M525.7 275h0M508.3 257.5h0M482.3 226.6h0M507.9 281.3h0M463.9 182.8h0M448.3 251.7h0M498.8 233.3h0M496.6 207.6h0M506.3 218.2h0M507.6 217h0M489.2 208.7h0M489.4 212.8h0M472.9 231.9h0M488.7 220.3h0M499.8 281.1h0M519.9 252.7h0M514.7 203.3h0M536.4 249.1h0M512.7 279.6h0M482.5 285.3h0M493.9 256.7h0M430 200.1h0M455.9 178h0M441.5 226.3h0M469.7 283.7h0M474.9 259.2h0M432.8 221.6h0M493.4 201.1h0M493.9 244.9h0M498.8 254.1h0M447.1 225.7h0M512.9 211.6h0M522.1 277.1h0M464.3 180.1h0M455.3 189.5h0M495.3 217.8h0M468.2 192.9h0M438 222.1h0M431.1 194.1h0M446.7 174.4h0M477.1 216.3h0M452.5 195.4h0M447.6 204h0M457 180.1h0M429.8 196.2h0M436.2 242.6h0M453.6 214.3h0M486.7 212.5h0M492 227.7h0M475.6 222.8h0M452.5 241.8h0M444.1 242.6h0M458.6 202.4h0M483.9 247.3h0M528.7 272.4h0M504.5 217.4h0M463.8 216.8h0M435.1 175.6h0M477.9 198.5h0M454.9 185.2h0M435.8 240h0M456.8 266.2h0M459.4 277.5h0M454.5 171.9h0M495.9 200.1h0M504.9 193.3h0M488.8 194.5h0M477.3 188.7h0M496 236h0M495.8 241.2h0M496.9 225.2h0M447 259.4h0M504.8 274.8h0M494.5 240.7h0M440.3 259.7h0M442.6 190.5h0M514.3 213.8h0M525.9 226.9h0M466.2 225.6h0M447.2 271.6h0M457.1 241.4h0M514.1 245.7h0M462.8 280.9h0M447.7 249.1h0M435.6 225.8h0M514.1 248.1h0M460.9 189.5h0M534 240.8h0M471.6 179.6h0M470.4 195h0M495.4 269.8h0M529 265.7h0M522.3 210.7h0M448.9 259.6h0M493.5 191.6h0M512.5 264.5h0M519.7 211.6h0M469.3 255.6h0M490.1 196.9h0M497.6 197.4h0M488.8 226.1h0M491.7 244.1h0M474.7 250.4h0M509.2 223.3h0M475.4 257h0M494 195.5h0M439.6 224.3h0M470.1 240.2h0M534.8 245.3h0M470.1 221.9h0M493.6 277.2h0M492.9 201.3h0M479.8 230.5h0M450.7 272.1h0M436.5 220.3h0M448.3 174.7h0M441.5 175.2h0M466.9 204.8h0M482.3 198.7h0M451.5 192.8h0M466.9 186.5h0M464.6 244.8h0M464.5 186.4h0M492.3 195.1h0M441.2 223.6h0M452.7 186.2h0M491 184h0M470.9 200h0M464.3 225.6h0M437.3 179.7h0M463.2 274h0M495.3 273h0M438.5 191.9h0M480.6 245.6h0M461 254.8h0M529.4 237.3h0M497.3 235.1h0M437.1 227h0M515.7 203.5h0M454 245.2h0M527.4 251.3h0M485.5 265.1h0M525.3 265.3h0M479.5 237.1h0M455.6 247.1h0M473 214.5h0M464 206.9h0M465.8 278h0M466.8 233.1h0M514.4 228.9h0M484.3 224h0M520.6 240.3h0M534 260.1h0M447.1 180.2h0M464.5 184.7h0M452.7 175.5h0M442.9 255.4h0M510.2 233h0M459.8 191.1h0M534.7 254.8h0M456.9 219.5h0M477.8 187.4h0M477.8 239.7h0M483.3 245.1h0M433 208h0M476.5 285.4h0M436.9 193.7h0M486.2 241.9h0M487.4 192.4h0M525.3 221.3h0M475.8 218.3h0M478.5 217.4h0M500 240.2h0M527.2 263.5h0M461.1 198.3h0M467.3 196.2h0M478.1 250.7h0M500.3 225.3h0M488.9 256h0M507.7 228.9h0M431 214.9h0M478 230.6h0M457.6 188.2h0M515.8 225.9h0M483.7 219.1h0M471.3 180.9h0M449.7 184.7h0M510.6 229.2h0M517.5 257h0M478.7 219.9h0M459.1 248.3h0M509.8 273.8h0M479.3 185.6h0M510.1 240.7h0M477.7 218.1h0M478.9 261.3h0M488.7 232.7h0M477.1 176.5h0M484.3 252.4h0M482 197.1h0M503.8 270.9h0M435.9 178.4h0M477.2 201.2h0M430.7 193.2h0M455.6 190.1h0M431.2 242.9h0M458.6 213.7h0M478.7 254h0M448.3 179.2h0M526.6 262.2h0M479 205.5h0M435.4 188.3h0M515 220.6h0M457.3 168.9h0M477 262.5h0M442.8 171.5h0M452.2 260.3h0M512 278h0M497.6 250.1h0M494.4 235.2h0M498.1 257.5h0M430 238.1h0M499.3 242h0M434.2 252.2h0M457.1 223.3h0M483.3 258.8h0M527 220.2h0M510.1 243.2h0M498.7 261.6h0M479.3 192.7h0M473.7 279h0M466.1 216.1h0M475.8 210.8h0M482.5 263.7h0M449.7 190.9h0M434.8 229.4h0M502.4 272h0M512.7 279.7h0M497 252.4h0M485.1 258.8h0M438 173.9h0M493.3 256.2h0M467.8 219.6h0M525.8 227h0M493 186.4h0M485.8 229.5h0M459.1 187.1h0M502.8 257.1h0M445 174.6h0M463.3 220.4h0M496.5 222.5h0M437.2 186.2h0M503.5 270.6h0M489.6 222.5h0M443.6 213.6h0M464.2 282.9h0M512.3 210.1h0M508.6 202.9h0M519.7 230.6h0M514.2 279h0M461.5 273.8h0M475.9 225.5h0M513.4 275.7h0M454.2 191.1h0M491.5 232.5h0M520.7 260.9h0M486.3 183.1h0M471 258h0M448.2 236.4h0M443.5 217.1h0M498.1 200h0M434.5 258.4h0M488.5 219.2h0M516.1 247.8h0M506.6 257.3h0M501.6 267.2h0M521.1 273h0M466.5 244.2h0M494.9 237.6h0M493.2 275h0M461.1 214.5h0M499.3 195.5h0M458 191.3h0M505.7 225.1h0M457.3 238.3h0M452.5 197.3h0M490.5 246.5h0M467.3 209.6h0M478.3 211.9h0M514.8 216.3h0M531.9 233.7h0M468.6 180.2h0M481.8 180.1h0M486.2 184.2h0M447.8 255.9h0M438.1 207.4h0M531 242.4h0M527.5 258.2h0M457.1 246.8h0M444.7 262.1h0M462.1 274.3h0M498.6 286.6h0M461.4 244.1h0M456.9 223.6h0M470.6 246.6h0M524.4 237.3h0M431.5 249.7h0M433.8 248.4h0M489.6 202.1h0M479.6 271.1h0M457.1 247.5h0M509.2 276h0M491.1 214.1h0M451.2 204.7h0M446.2 212.3h0M505.6 217.2h0M507.5 237h0M481.5 287.2h0M439.5 268.7h0M480.6 244.9h0M504 258.4h0M534.3 259.9h0M464.5 261.6h0M509.4 237.8h0M443.9 273.3h0M437.9 255.5h0M465.5 241.8h0M439.5 196.9h0M522.3 244.9h0M531.9 266.3h0M458.7 269.6h0M533.1 253.1h0M468.7 282.3h0M453.1 273.6h0M464.3 273h0M471.6 211.2h0M445.1 173.1h0M445.8 225.1h0M446.2 198.6h0M467 173.5h0M481.8 182.5h0M455 279.7h0M515.5 209.5h0M435.5 195h0M497.7 219.3h0M468.2 191.4h0M493.7 214.7h0M502.5 258.5h0M510.9 223.4h0M525.7 220.7h0M488.3 284.9h0M495 210.5h0M432.9 224.8h0M490.6 281h0M430.6 209.7h0M450.1 242.6h0M501.1 239.1h0M533.9 239.8h0M526.6 260.3h0M442.6 186.1h0M483.8 248.1h0M450.2 215.6h0M435.9 254.3h0M446.6 207.7h0M463.6 249.7h0M499.6 193.3h0M436.9 175.3h0M484.5 194.8h0M448.1 241.2h0M430.1 223.4h0M435.5 240.2h0M438 262h0M431.1 195h0M449.6 274.7h0M487.7 275h0M494.4 242h0M457.4 201.4h0M493.2 193.9h0M448.5 207.8h0M485.6 227.7h0M468.7 188.8h0M446.7 238.5h0M470.8 216.9h0M480.2 278.7h0M479.5 228.6h0M452.2 210.3h0M530.2 244.4h0M517.1 242.8h0M513.9 201.9h0M454.3 201.8h0M496.2 207.6h0M436.8 214.2h0M445.5 258h0M467.7 269.5h0M588.1 293.9h0M578.6 287.9h0M569.2 282.8h0M565.1 287.4h0M566.3 295.5h0M553.6 289.9h0M566.8 298.2h0M585.3 286.2h0M577.7 309.5h0M557.2 283.9h0M587.1 291.7h0M569.7 281.4h0M571.6 314.9h0M577.4 297.8h0M565.6 302.9h0M566.1 279.2h0M560.1 300.4h0M573.8 305.2h0M574.7 300.1h0M563.7 287.1h0M575.7 281.3h0M566.8 303.4h0M563.7 303.8h0M564.2 275.4h0M573.5 303.4h0" stroke="#000" stroke-width="5" stroke-linecap="round"/>
<line x1="139.4" y1="147.8" x2="656.3" y2="291.7" stroke="#ff0000" stroke-width="2.6" stroke-linecap="round"/>
<rect x="113" y="2" width="569.4" height="433.6" fill="none" stroke="#b0b0b0" stroke-width="1.6"/>
<line x1="109.4" y1="18.2" x2="113" y2="18.2" stroke="#a0a0a0" stroke-width="1.6"/>
<text x="107.2" y="24.2" font-size="16.5" fill="#4d4d4d" stroke="#4d4d4d" stroke-width="0.3" text-anchor="end">40</text>
<line x1="109.4" y1="119.2" x2="113" y2="119.2" stroke="#a0a0a0" stroke-width="1.6"/>
<text x="107.2" y="125.2" font-size="16.5" fill="#4d4d4d" stroke="#4d4d4d" stroke-width="0.3" text-anchor="end">20</text>
<line x1="109.4" y1="220.2" x2="113" y2="220.2" stroke="#a0a0a0" stroke-width="1.6"/>
<text x="107.2" y="226.2" font-size="16.5" fill="#4d4d4d" stroke="#4d4d4d" stroke-width="0.3" text-anchor="end">0</text>
<line x1="109.4" y1="321.2" x2="113" y2="321.2" stroke="#a0a0a0" stroke-width="1.6"/>
<text x="107.2" y="327.2" font-size="16.5" fill="#4d4d4d" stroke="#4d4d4d" stroke-width="0.3" text-anchor="end">-20</text>
<line x1="109.4" y1="422.2" x2="113" y2="422.2" stroke="#a0a0a0" stroke-width="1.6"/>
<text x="107.2" y="428.2" font-size="16.5" fill="#4d4d4d" stroke="#4d4d4d" stroke-width="0.3" text-anchor="end">-40</text>
<line x1="177.2" y1="435.6" x2="177.2" y2="439.2" stroke="#a0a0a0" stroke-width="1.6"/>
<text x="177.2" y="454.4" font-size="16.5" fill="#4d4d4d" stroke="#4d4d4d" stroke-width="0.3" text-anchor="middle">20</text>
<line x1="346" y1="435.6" x2="346" y2="439.2" stroke="#a0a0a0" stroke-width="1.6"/>
<text x="346" y="454.4" font-size="16.5" fill="#4d4d4d" stroke="#4d4d4d" stroke-width="0.3" text-anchor="middle">40</text>
<line x1="514.8" y1="435.6" x2="514.8" y2="439.2" stroke="#a0a0a0" stroke-width="1.6"/>
<text x="514.8" y="454.4" font-size="16.5" fill="#4d4d4d" stroke="#4d4d4d" stroke-width="0.3" text-anchor="middle">60</text>
<text x="397.7" y="477.6" font-size="20.6" fill="#1a1a1a" stroke="#1a1a1a" stroke-width="0.35" text-anchor="middle">Year 1 Ejection Fraction (%)</text>
<text transform="translate(75.3 218.8) rotate(-90) scale(1 1.03)" x="0" y="0" font-size="20.8" fill="#1a1a1a" stroke="#1a1a1a" stroke-width="0.35" text-anchor="middle">Change in EF from Year 1 to Year 4 (%)</text>
<text transform="translate(1.3 36.5) scale(0.9 1)" font-size="35" font-weight="bold" fill="#000" stroke="#000" stroke-width="0.8">A</text>
<line x1="185.4" y1="493.8" x2="185.4" y2="922.7" stroke="#f6f6f6" stroke-width="1.5"/>
<line x1="305.7" y1="493.8" x2="305.7" y2="922.7" stroke="#f6f6f6" stroke-width="1.5"/>
<line x1="426" y1="493.8" x2="426" y2="922.7" stroke="#f6f6f6" stroke-width="1.5"/>
<line x1="546.3" y1="493.8" x2="546.3" y2="922.7" stroke="#f6f6f6" stroke-width="1.5"/>
<line x1="666.7" y1="493.8" x2="666.7" y2="922.7" stroke="#f6f6f6" stroke-width="1.5"/>
<line x1="123" y1="585.5" x2="682.4" y2="585.5" stroke="#f6f6f6" stroke-width="1.5"/>
<line x1="123" y1="715.9" x2="682.4" y2="715.9" stroke="#f6f6f6" stroke-width="1.5"/>
<line x1="123" y1="846.3" x2="682.4" y2="846.3" stroke="#f6f6f6" stroke-width="1.5"/>
<line x1="125.2" y1="493.8" x2="125.2" y2="922.7" stroke="#f4f4f4" stroke-width="1.6"/>
<line x1="245.5" y1="493.8" x2="245.5" y2="922.7" stroke="#f4f4f4" stroke-width="1.6"/>
<line x1="365.8" y1="493.8" x2="365.8" y2="922.7" stroke="#f4f4f4" stroke-width="1.6"/>
<line x1="486.2" y1="493.8" x2="486.2" y2="922.7" stroke="#f4f4f4" stroke-width="1.6"/>
<line x1="606.5" y1="493.8" x2="606.5" y2="922.7" stroke="#f4f4f4" stroke-width="1.6"/>
<line x1="123" y1="520.3" x2="682.4" y2="520.3" stroke="#f4f4f4" stroke-width="1.6"/>
<line x1="123" y1="650.7" x2="682.4" y2="650.7" stroke="#f4f4f4" stroke-width="1.6"/>
<line x1="123" y1="781.1" x2="682.4" y2="781.1" stroke="#f4f4f4" stroke-width="1.6"/>
<line x1="123" y1="911.6" x2="682.4" y2="911.6" stroke="#f4f4f4" stroke-width="1.6"/>
<line x1="123" y1="650.7" x2="682.4" y2="650.7" stroke="#8a8a8a" stroke-width="2.6"/>
<path d="M163.7 604.5h0M162.8 616.8h0M171.5 609.8h0M174.2 597.5h0M177.7 592.3h0M183.8 595.8h0M189.9 586.7h0M196.9 584.4h0M192.6 606.3h0M210.1 602.8h0M217.1 595.8h0M220.6 594h0M225 592.3h0M226.7 587.9h0M234.6 590.9h0M218.8 607.2h0M227.6 608.9h0M230.2 611.5h0M235.5 608.9h0M239 613.3h0M252.1 596.6h0M257.7 610.7h0M245.1 624.7h0M254.8 626.4h0M225.8 681.2h0M234.6 684.7h0M235.5 679.4h0M239.9 691.7h0M246.9 682.9h0M252.1 680.3h0M253 689.9h0M259.1 691.7h0M264.3 610.9h0M270.9 614.6h0M276 608h0M262.8 619h0M251.2 630.7h0M251.9 635h0M257.7 632.1h0M261.4 627.7h0M264.3 629.9h0M265.8 626.3h0M257.7 639.4h0M260.7 643.8h0M266.5 638.7h0M268 643.8h0M270.9 642.3h0M273.8 636.5h0M273.8 640.9h0M276.7 639.4h0M281.1 640.9h0M269.4 646.7h0M272.3 648.2h0M255.5 648.2h0M251.9 656.9h0M259.2 655.5h0M265 656.9h0M268.7 658.4h0M279.6 627.7h0M284 623.4h0M286.9 626.3h0M286.2 633.6h0M286.2 613.9h0M293.5 608h0M289.9 601.5h0M302.3 603.6h0M296.4 629.9h0M294.2 638h0M304.5 634.3h0M305.9 639.4h0M313.2 626.3h0M313.9 629.9h0M324.2 631.4h0M322 638h0M286.2 643.8h0M289.1 649.6h0M281.1 651.8h0M281.8 656.2h0M300.1 655.5h0M309.6 654.7h0M316.1 646.7h0M320.5 648.2h0M320.5 659.9h0M320.5 665h0M322 671.5h0M272.3 662.8h0M275.3 660.6h0M285.5 661.3h0M288.4 664.2h0M282.6 667.2h0M285.5 668.6h0M297.2 668.6h0M300.1 671.5h0M273.8 671.5h0M259.2 665.7h0M259.2 670.1h0M168.2 555.6h0M190.1 553.6h0M211.2 557.8h0M233.1 558.4h0M237.3 548.9h0M197.3 575.3h0M217.9 572.2h0M229.2 571.1h0M248.4 579.2h0M255.6 581.4h0M263.6 575.3h0M225.6 596.6h0M268.6 598h0M324.6 598.1h0M375.8 558.7h0M350.2 589.2h0M337.5 599.9h0M337.5 613h0M337.8 632.6h0M354.3 645.8h0M331.7 650.1h0M366 650.6h0M385.7 654.5h0M387.4 661.1h0M328 677.2h0M337.5 677.2h0M237.3 675.8h0M270.1 691.2h0M280.4 691.9h0M262.1 678.8h0M265 676.6h0M268 680.2h0M266.5 683.1h0M270.9 684.6h0M282.6 675.1h0M286.9 674.4h0M289.9 673.6h0M280.4 684.6h0M284.7 683.9h0M287.7 687.5h0M297.2 677.3h0M302.3 679.5h0M310.3 677h0M317.3 677.3h0M292 694.8h0M299.3 694.1h0M299.8 699.9h0M274.1 700.2h0M309.6 708.2h0M318 702.4h0M341.2 690.2h0M345.1 704.1h0M439.1 513.1h0M453 602.4h0M422 632.3h0M436.7 638.3h0M542.7 662.6h0M440.7 715.2h0M442.8 783.4h0M657.7 904.2h0M166.9 625.6h0M170.6 647.9h0M221.3 676.2h0M187.9 632.9h0M233.7 668.6h0M172.3 645.4h0M192.1 652.9h0M179.9 655.4h0M194.3 619.8h0M198.3 618.2h0M177.9 656.5h0M189.6 622.7h0M161 647.3h0M188.2 646.8h0M179.4 615.8h0M199.2 646.7h0M219 649.2h0M205.3 669.4h0M179.9 653.1h0M163.2 643.1h0M152.8 629.7h0M228.2 643.3h0M236.7 653.4h0M163.5 634.1h0M156.9 640.7h0M228.6 633.3h0M234.1 665.9h0M165.3 619.5h0M194 668.5h0M232.7 631.3h0M231.2 623.4h0M166.4 656.5h0M177.9 643.6h0M217 653.5h0M237.4 662.8h0M212.8 623.5h0M196.4 639.8h0M233.3 643.4h0M224.7 666h0M209.7 641.1h0M202.5 636.8h0M198.2 661h0M213.6 652.1h0M185.8 661.4h0M175.7 643.4h0M157.3 633.6h0M181.9 625.7h0M235 675h0M180.3 637.2h0M185.9 661.5h0M196.1 644.3h0M200.5 624.8h0M155.5 635.2h0M231 646.5h0M190.9 665h0M240.8 642.1h0M232.6 634.9h0M171 624.5h0M225.2 675.3h0M217.3 624.8h0M167.4 636.9h0M167.7 620.1h0M195.3 641.1h0M191 652.8h0M189.3 614.9h0M232.3 622.3h0M223.5 646.2h0M212.5 657.5h0M210.9 666.6h0M207.7 674.1h0M212.8 635.4h0M209 636.9h0M153.3 629.7h0M196.7 612.4h0M201.7 663.5h0M229.9 648.5h0M232.4 636h0M165.2 654.1h0M236.2 650.6h0M172.9 629.2h0M232.2 664.5h0M219.8 665.4h0M188.1 622.9h0M215.9 664.1h0M206 613.5h0M168 654.3h0M207.7 628.9h0M242.3 646.7h0M182.5 631.5h0M218.6 617.7h0M187.1 664.6h0M172.3 655.6h0M201.3 625.8h0M189.3 651.5h0M187 650h0M185 654.9h0M173.1 633.6h0M215.9 635.9h0M174.6 626.6h0M186.8 648.1h0M149 631.5h0M213.5 665.8h0M208.4 651.1h0M217.3 648.3h0M156.3 634.3h0M174.2 625.3h0M212.2 641.2h0M241.9 655.2h0M165.7 651.9h0M174.5 656.3h0M171.8 648.5h0M216.3 665.9h0M220.8 672.4h0M225.5 631.4h0M184.8 634.7h0M184.2 626.3h0M213 675.9h0M246.2 646.8h0M177.3 656h0M163.1 626.3h0M179.1 649h0M205.1 662.6h0M241.4 670.7h0M192.1 645.2h0M212.3 656.3h0M194.6 667.6h0M226.1 636.1h0M242.8 645.4h0M222.3 667.6h0M204.1 647.9h0M215.1 643.1h0M174 629.6h0M215.9 654.2h0M216 647h0M220.1 650.7h0M194.1 659.5h0M226.9 624.7h0M242.3 649.1h0M200.4 662.7h0M178.5 650.7h0M224.4 633.2h0M149.9 633h0M186.9 654.4h0M231.7 646.9h0M164.8 644.1h0M234.2 631.9h0M163.4 624.4h0M232.2 636.8h0M187.7 652.2h0M216.5 625.3h0M168.7 652.8h0M187.4 658.7h0M195 630.7h0M228.1 651.6h0M197.3 621.4h0M183.2 662h0M229.5 623.1h0M236.4 631.3h0M169 620.9h0M191.8 648h0M183.5 625.3h0M211.4 666.2h0M194.5 663.9h0M206.1 628.5h0M243.6 674.1h0M171.6 653.9h0M170 625.3h0M244.8 667.5h0M224.2 670.3h0M200.5 626h0M192.3 637.3h0M166.7 637.1h0M203.1 618.4h0M193.8 645.3h0M172.2 631h0M159.8 623.9h0M194.6 664h0M197.2 670h0M178.8 662.1h0M228.7 674.8h0M244.7 667.1h0M223.8 671.2h0M173.2 648.2h0M220.7 619h0M167.8 643.7h0M228 656.9h0M236.4 646.6h0M195.9 619.5h0M180 626.3h0M210 657.9h0M174.2 618.8h0M226.2 626.3h0M204.6 646.4h0M216.9 638.1h0M216.6 655h0M179.5 643h0M215.3 632.8h0M179.6 640.5h0M202 619.5h0M183.8 657.8h0M178.1 648.6h0M214.5 623h0M244 677h0M194.2 652h0M248 663h0M244.6 645.6h0M190.2 619.8h0M233.3 637.4h0M235.9 648.7h0M233.6 625.9h0M203.8 642.9h0M195.5 660.3h0M212.3 662.7h0M239.5 644h0M207.4 645.8h0M231.9 669.6h0M217.8 626.9h0M227.5 644.5h0M156.4 627.4h0M223.3 651.5h0M189.9 622.6h0M206.4 659.3h0M173.1 645.7h0M181.2 630.8h0M149.9 635h0M159.3 626.6h0M199.9 653.6h0M176.2 640.1h0M171 657.4h0M234.9 652.2h0M199.9 628.5h0M215.7 645.3h0M221.4 659.6h0M184.7 637.8h0M196.3 629.9h0M213.3 645.3h0M180.9 638.9h0M215.8 676.3h0M207.6 636.4h0M170 649.2h0M218.8 623.3h0M215.7 635.2h0M195.5 618.8h0M170.5 619.9h0M208.2 651.4h0M236.3 654.4h0M178.1 618.6h0M210.2 649.4h0M246.5 656h0M174.8 637.7h0M206.7 675.2h0M206.1 620.7h0M212.7 673.2h0M248.9 662.1h0M221.1 658.2h0M210.6 614.3h0M218.1 675.2h0M153.4 632.1h0M187.5 636.5h0M181.8 643.3h0M179.6 660h0M211.5 655.7h0M174.9 634.8h0M198.5 656.9h0M243.1 649.9h0M172.3 643h0M234.9 671.4h0M178.4 615.7h0M247.2 654.9h0M201.5 612.7h0M197.2 619.4h0M240.5 673.8h0M246.5 658.3h0M236.7 667.2h0M201 643.8h0M217.4 628.5h0M200.3 619.3h0M212.4 645.2h0M172.8 627.8h0M166.8 616h0M163.3 653.2h0M202.9 653.3h0M230.5 670.7h0M194.5 662.1h0M214.7 649.5h0M201.9 639.5h0M170.6 659.7h0M177 648.2h0M176.9 661.8h0M220.1 655.5h0M179.1 618.5h0M164.8 652.5h0M201.4 656.5h0M225.1 635h0M233.5 636h0M232.7 665.7h0M173.2 641.4h0M213.3 662.2h0M206.2 673.8h0M176.4 628.1h0M153.2 625.4h0M150.5 627.7h0M175.4 629.5h0M223.2 635.7h0M165.8 636.6h0M189.3 622.8h0M176.8 616h0M235.2 633h0M157 635.2h0M167.3 624.3h0M231.2 652.5h0M209.1 652.3h0M174.4 659.1h0M156.9 633.6h0M231.3 672.3h0M203.1 669.4h0M190.8 641.2h0M198.2 650.9h0M224.2 621.8h0M212.4 641.9h0M248.6 666.2h0M169.1 633.2h0M181.2 624.8h0M182.4 618.6h0M191 649.2h0M157.7 644.4h0M158.6 641.4h0M164.9 639.7h0M223.6 654.2h0M221.7 672.3h0M153.1 638.5h0M177.2 627.2h0M203.9 663.6h0M205.7 639.5h0M188.9 667.5h0M164.9 631.4h0M206.4 644.3h0M202.8 621h0M181.4 648.2h0M225.9 653.7h0M164.8 625h0M247.8 670.1h0M209.1 662.4h0M195.7 649.2h0M228.9 655h0M210 663.9h0M233 666.2h0M226.5 674.6h0M204.5 670.3h0M212.7 640.2h0M232.8 625.8h0M225.8 640.8h0M235.3 642h0M247.7 650h0M150.9 642.3h0M231.2 621.1h0M220 631.6h0M207.5 665.6h0M245.4 665.2h0M198.1 614.8h0M228.1 639.7h0M225.9 654.2h0M184.5 655.9h0M187.9 611.6h0M168.1 647.8h0M176.7 618.5h0M218.3 618.7h0M179.8 612.1h0M191.7 645.8h0M218.8 649.8h0M204.5 614.9h0M189.7 664h0M219.1 628.1h0M207.2 627.7h0M238.4 640h0M219.3 673h0M229.7 664.9h0M226.3 630.3h0M168.5 649.3h0M239.4 662.9h0M163.2 636.9h0M247.3 669.8h0M227 667.1h0M189.2 617.5h0M240.7 662.6h0M197.9 627.8h0M247.3 658.4h0M229.3 660.9h0M162.3 645.9h0M213.9 658.3h0M201.5 642.8h0M227.1 623.2h0M165.9 625.4h0M194.5 656.9h0M182.3 623.3h0M217.7 639.6h0M208.7 644h0M191 659h0M185.8 652.2h0M167.7 627.9h0M203.7 628.9h0M202.7 642.7h0M163.3 639.1h0M244.8 651.7h0M169.4 646h0M222.7 674.3h0M201 665.8h0M218.6 654.6h0M217.1 649.8h0M203.3 661.5h0M229 622.1h0M202 656.4h0M201.4 662.5h0M161.1 631h0M220.2 625.4h0M208.2 624.5h0M221.3 623.7h0M166.4 645.9h0M229.6 673.1h0M150.3 635.7h0M218.4 676.6h0M194.6 617.6h0M183 660.3h0M232.4 673.1h0M219.8 662.1h0M195.9 666.9h0M205 655.6h0M164.1 631.1h0M187.2 616.9h0M178.8 617.6h0M160.8 626.3h0M190.5 655.3h0M166.6 645h0M186.9 647.7h0M167.3 616.1h0M211.6 631.4h0M210.7 614.4h0M210.7 619.2h0M176 617.9h0M246 660.9h0M233.5 671.3h0M223.8 660.1h0M239 653.4h0M185.4 632.4h0M205.7 636.5h0M193.8 624.1h0M227.1 621.5h0M210.9 636.4h0M166.3 633.5h0M164.6 640.6h0M225.1 631.5h0M224 637.5h0M172.5 634.8h0M185.3 657.1h0M223.3 656.5h0M194.9 643.2h0M166.2 644.1h0M202.9 638.9h0M230.9 645.7h0M170.7 653h0M197 617.4h0M205.3 658.3h0M179 628.1h0M216.3 640.1h0M198.1 626.3h0M204.7 658.7h0M216.3 657.1h0M212.9 640.9h0M232.1 664.7h0M171.3 642.3h0M229.5 657.1h0M229.6 660.2h0M200.2 630.1h0M239.9 661.5h0M178.5 659.1h0M241 672.2h0M188.6 657.6h0M205.3 643.8h0M206.6 633.6h0M181 646.5h0M215.8 645.5h0M216.1 618.8h0M210.9 639.3h0M175.1 620.9h0M209.3 632.7h0M188.1 622.3h0M218.6 662.5h0M215.5 634.1h0M193.2 612.1h0M232.7 675h0M226.7 661.6h0M246.2 669.2h0M190.8 639h0M211 643.4h0M171.9 629h0M192.7 617.7h0M194.5 648.5h0M160.9 646.5h0M243.6 647.6h0M190.4 623.3h0M195.2 650.2h0M237.5 644.2h0M160.6 649h0M194.7 658.3h0M207 662.2h0M179.9 655.4h0M188.5 651.8h0M150.2 637.9h0M234.7 645h0M198 616.8h0M191 656.4h0M238.7 654.1h0M237.9 661.6h0M181 635.6h0M248.2 669.2h0M234.1 671.8h0M226.8 663.6h0M189.4 648.5h0M185.9 664.4h0M207.4 626.9h0M233 622.7h0M199 646.9h0M173.3 618.3h0M199.8 664.8h0M185.4 665.8h0M203.9 673.6h0M188 657.2h0M224.9 674.2h0M170.6 618.9h0M202.5 646.3h0M162.9 627.5h0M177 644h0M236.2 647.2h0M201 651.9h0M236.6 633.1h0M219.8 655h0M247.1 657.2h0M210 613.8h0M245.3 663.2h0M188.4 638.6h0M188.7 645.3h0M236.7 651.4h0M197.7 669h0M156.8 648.5h0M186.6 642.7h0M213.2 655.7h0M152.6 630.6h0M215.6 667.7h0M211.7 619h0M225.1 621.7h0M190.6 666.6h0M231.2 658.1h0M150.7 639.1h0M182.9 624.1h0M190.8 625.7h0M230.2 669.3h0M187.5 641.6h0M198.8 655.2h0M242 670.5h0M156.9 646.5h0M213.7 622.3h0M197 660h0M219.3 676.2h0M175.4 645.1h0M160.1 646.1h0M158.7 649.7h0M187.8 626.7h0M234.8 673.6h0M217.1 652.6h0M179.3 612.7h0M191.3 643h0M208.6 665.7h0M218 647.5h0M232.7 669.8h0M243.8 655.1h0M161.6 654.2h0M193.2 657.9h0M232.7 671.8h0M224.6 664.3h0M226.9 636.7h0M149.7 633.6h0M184.2 621.3h0M179.7 631.3h0M188.3 631.1h0M159.4 648.7h0M170.9 615.7h0M207.9 620.3h0M177.9 644.1h0M222.5 656.1h0M189.5 623.5h0M171.2 619h0M210.1 617.1h0M245.4 644.7h0M194.1 657h0M218.9 660.5h0M220.3 667.9h0M218.1 627.4h0M178 658.4h0M157.7 639.5h0M250.2 673.6h0M208 614.5h0M215 661.6h0M159.5 638.3h0M235.3 656.8h0M193.8 654.6h0M211.6 635.3h0M214.9 625.7h0M212.8 635.5h0M171.3 624.7h0M200.7 651.3h0M220.7 624h0M221.3 674.3h0M183 635.1h0M224.1 665.7h0M157.9 645.6h0M211.3 616.4h0M161.9 639.8h0M233.4 639.1h0M167 639.6h0M248.7 663.1h0M215.2 657.7h0M176 620.6h0M209.7 626.8h0M159.5 643.6h0M175.7 661.1h0M155.9 634.8h0M165.1 618.9h0M235.9 674.2h0M211.9 648h0M172.4 640.9h0M233.2 626.5h0M204.4 664.8h0M228.4 640.3h0M180.6 649.9h0M170.5 628.1h0M242.3 670.5h0M155.4 640.5h0M192.6 668.2h0M194.2 668.2h0M181.1 622.1h0M180.1 634.9h0M224 657.6h0M161.9 641.4h0M199.2 620.1h0M155.8 630h0M194.6 633.2h0M186.6 613.5h0M208.1 630.1h0M229.3 622.2h0M178.2 625.7h0M210.3 618.5h0M218.4 631h0M217.7 626.7h0M190.4 619.2h0M191.1 650.9h0M220.2 622.4h0M228.6 624.8h0M175.6 638.8h0M176.4 631.2h0M223.1 620.7h0M161.3 635.2h0M186.9 641.9h0M177.3 630.7h0M211.2 667.5h0M199.7 629.6h0M194.2 633.5h0M186.1 638.1h0M174.4 650.4h0M239.7 672h0M167.4 639.9h0M181.5 630.9h0M228 631.9h0M205.4 670.4h0M240.4 648.6h0M227.4 645.7h0M165 639.3h0M170.5 623.4h0M228.4 654.2h0M178.4 644.3h0M195.7 656.4h0M166.7 637.1h0M176.5 658.1h0M224.3 654.3h0M204.7 642.3h0M199.4 614h0M197.5 637h0M185.8 614.5h0M249 667.1h0M163.4 640.4h0M189.2 642.3h0M173.1 638.1h0M208.1 672.4h0M240 649.7h0M233.7 653.6h0M215.7 643.9h0M153.4 641.2h0M171.8 642.6h0M230 645.6h0M150.4 635.1h0M163.6 641.3h0M220.6 633.2h0M222.4 677.1h0M208.7 617.2h0M163 622.6h0M241.1 646.6h0M215.2 645.2h0M181.2 650.2h0M248.9 672.1h0M231.7 625.1h0M248.5 655.5h0M225.7 657.2h0M183.1 654.7h0M203.7 638.6h0M234.9 627.6h0M184.7 627.2h0M166.2 646.8h0M201.5 654.4h0M196.7 660.2h0M180.7 617.1h0M235.5 635.2h0M245.4 671.1h0M202.9 630.4h0M250.2 670.7h0M210 672.6h0M223.8 667.5h0M203.8 670.8h0M180 649.3h0M165.4 634.3h0M174.6 613.8h0M230.9 632.9h0M194.9 663.4h0M237.8 631.9h0M208.5 675.1h0M188.3 648.4h0M176.7 615.1h0M159.9 622.7h0M171 620.2h0M180.7 627.4h0M189.5 645.8h0M174.6 638.6h0M170.3 654.3h0M203.4 612.2h0M197 618.2h0M176.8 627.4h0M234.5 646h0M214.3 647.8h0M204.3 612.8h0M238.7 642.5h0M168.1 620.7h0M238.7 654.1h0M166.2 654.7h0M158.5 649.9h0M207 613.9h0M182.6 615.1h0M200.8 626.9h0M223.7 620.1h0M189.4 638.8h0M193.2 664.8h0M240.5 668.7h0M209.1 647.7h0M187.3 659.9h0M157.4 639.5h0M239.4 650h0M221.5 666.5h0M205.7 665.7h0M150.5 641h0M193.7 642.3h0M208.8 651.7h0M220.1 651.5h0M187.5 654h0M210.1 620.3h0M198.6 628.6h0M215.8 626.1h0M249.4 668.7h0M210.5 620.5h0M181.4 652.4h0M216.3 674.4h0M150.7 641.2h0M201.6 640.9h0M192.5 652.6h0M246.9 672.3h0M238.5 644.4h0M156.1 629.9h0M180.1 657.7h0M237.2 653.7h0M220 645.5h0M160.2 624.2h0M248.4 666.6h0M213.5 639.5h0M228.5 641.7h0M219.9 661.4h0M197.7 620.8h0M182.4 644.2h0M148.4 640h0M210.3 639.5h0M203.9 642.2h0M195.1 626.4h0M177 644.5h0M242.9 659.6h0M167.4 622.9h0M210.4 652h0M213.1 674.3h0M194.9 622h0M184.9 613.2h0M248 659.5h0M221.6 625.4h0M169.8 641.6h0M201.8 656.2h0M195.7 640.1h0M204.8 662.5h0M186.3 632.5h0M184.6 645.7h0M218.2 674.6h0M223.7 641.7h0M230.9 635.1h0M199.9 653.4h0M154.2 644.6h0M158.9 627.6h0M178.1 641.5h0M172.3 638.7h0M193 640.9h0M233.7 659.3h0M173.8 656h0M237 670.5h0M238.3 635.6h0M152.5 630.3h0M214.5 637.3h0M200.4 619.5h0M174 639.2h0M165.2 642.4h0M230.1 652.4h0M187.5 630.4h0M233.9 643.6h0M195.1 643.7h0M222.7 662.6h0M164 653.5h0M218.5 649.5h0M189.6 613h0M233.3 638.1h0M172.2 646.3h0M191.1 638h0M186.9 667.4h0M202.3 635.3h0M235.9 632.2h0M185.2 664.5h0M187.3 630.2h0M240 661h0M247 671.4h0M165.5 639.5h0M225.4 662.6h0M225.3 633.7h0M202.1 616.5h0M212.1 623.7h0M228.6 643.9h0M221.1 631.8h0M177.8 642.5h0M153.9 629.3h0M184 640.1h0M169 629.5h0M239.5 651.6h0M201.9 658.1h0M220.3 627.1h0M200.3 636.4h0M233.4 634.5h0M228.7 656.4h0M153.7 645.2h0M198.5 623.6h0M217.7 672.7h0M227.1 620.4h0M148.8 635.3h0M184.4 624.1h0M175.2 638.7h0M198.9 630.8h0M208.9 642h0M216 643.6h0M156.7 635h0M195.8 616.2h0M206.8 625.7h0M163.4 646.3h0M221.8 656.3h0M228.5 649.4h0M236.2 625.4h0M227.7 630.4h0M193.7 620.9h0M227.1 675.3h0M160.8 631.9h0M238.1 647.3h0M212.8 628.4h0M213.1 641.3h0M195.8 657.6h0M241.1 650.8h0M229.9 654.8h0M214.4 644.2h0M175.3 616.9h0M249 673.4h0M226.7 620.9h0M208.8 663.7h0M208.4 635.3h0M176.7 651.9h0M189.5 626.6h0M157.9 635.3h0M234.8 647.3h0M206.6 650.8h0M242.6 655h0M212.3 669.8h0M197.9 667.4h0M208.1 645.4h0M222.9 661.6h0M196.9 627.5h0M178.3 653h0M214.5 639.5h0M230.1 658h0M188.9 631h0M238.9 636.8h0M164.4 632.6h0M227.5 656h0M236.9 627.3h0M179 653.4h0M213.6 659.3h0M243.8 661.5h0M248.7 657.3h0M228.5 667.1h0M222.3 672.3h0M211.3 654.2h0M205.7 633.8h0M238.3 663.1h0M176.2 615.5h0M202.9 658h0M211.5 642.2h0M231.3 661.6h0M209 637.2h0M158.9 640.2h0M235.9 658.5h0M228.9 647.3h0M179.7 655.4h0M191.5 646.5h0M184.4 642h0M203.8 646.1h0M230 622.3h0M154.6 640.2h0M207.9 630.9h0M158.7 621.8h0M204 656.5h0M219.4 665.7h0M168.2 630.1h0M211.8 665.8h0M187.7 638.4h0M217.8 650.6h0M242 653.4h0M176.5 626.8h0M240.4 643.3h0M243 671.6h0M208.1 670.3h0M169.9 629.6h0M167 625.2h0M221.1 630.1h0M185.2 622.8h0M189.1 620.8h0M209.4 659.8h0M230.2 623.9h0M208.3 663.4h0M192 627h0M190.2 650.1h0M201.3 630.5h0M212.8 640.5h0M191.8 653.5h0M228.3 651h0M204.5 636.3h0M230.8 628.4h0M233.4 633.4h0M201.2 615.7h0M173.7 651.3h0M227.5 623.6h0M200.5 635h0M228.2 675.4h0M231.2 622.2h0M213.5 618.2h0M217.9 623.6h0M177.5 620.7h0M249 663.5h0M215.1 632.7h0M197.2 636.1h0M202.2 637.3h0M212.2 625.9h0M209.9 622.1h0M226.6 675.6h0M249.9 674.5h0M246.3 660h0M242 651.2h0M235.7 644.6h0M247.4 649.7h0M235.4 663.5h0M232.9 625.7h0M182.2 631.1h0M234.1 646.5h0M237.2 641.8h0M230.1 638.8h0M235.1 631.3h0M204.5 629.2h0M222.9 641.2h0M229.6 638.3h0M231.3 658.7h0M201.4 660.7h0M209.8 660.3h0M184.4 636.4h0M219.5 621.7h0M169.5 658.9h0M232.1 666.6h0M163.4 648.3h0M205.2 661.3h0M179.8 622.8h0M215.9 667.8h0M246.3 665.2h0M211.7 651.8h0M191.8 655.5h0M217.8 642.8h0M166.3 637.3h0M201.1 630.2h0M211.4 616.3h0M209.4 658h0M203.2 652.4h0M240.3 640.7h0M206.3 644.2h0M167.6 643.2h0M245.1 647.7h0M248.5 658h0M185.7 640.8h0M222.8 665.6h0M177.1 618.3h0M195.1 635.1h0M186.6 649.2h0M210.5 667.5h0M204 672.5h0M219.3 627.9h0M185.4 625.8h0M225.1 676.5h0M179.3 637.1h0M185.2 628.1h0M208.6 656.4h0M151.6 642.3h0M244.6 644h0M247 655.2h0M215.9 641.3h0M175.3 637.1h0M190.1 652h0M187 656.3h0M214.7 648h0M170.4 634.9h0M154.9 627.2h0M171.9 620.7h0M167.7 619.5h0M207.7 643.3h0M213.7 654.5h0M232.1 654.5h0M166.8 618h0M199.3 651.2h0M184.6 616.1h0" stroke="#000" stroke-width="5" stroke-linecap="round"/>
<line x1="147.4" y1="640.2" x2="657.2" y2="701.1" stroke="#ff0000" stroke-width="2.6" stroke-linecap="round"/>
<rect x="123" y="493.8" width="559.4" height="428.9" fill="none" stroke="#b0b0b0" stroke-width="1.6"/>
<line x1="119.4" y1="520.3" x2="123" y2="520.3" stroke="#a0a0a0" stroke-width="1.6"/>
<text x="117.2" y="526.3" font-size="16.5" fill="#4d4d4d" stroke="#4d4d4d" stroke-width="0.3" text-anchor="end">100</text>
<line x1="119.4" y1="650.7" x2="123" y2="650.7" stroke="#a0a0a0" stroke-width="1.6"/>
<text x="117.2" y="656.7" font-size="16.5" fill="#4d4d4d" stroke="#4d4d4d" stroke-width="0.3" text-anchor="end">0</text>
<line x1="119.4" y1="781.1" x2="123" y2="781.1" stroke="#a0a0a0" stroke-width="1.6"/>
<text x="117.2" y="787.1" font-size="16.5" fill="#4d4d4d" stroke="#4d4d4d" stroke-width="0.3" text-anchor="end">-100</text>
<line x1="119.4" y1="911.6" x2="123" y2="911.6" stroke="#a0a0a0" stroke-width="1.6"/>
<text x="117.2" y="917.6" font-size="16.5" fill="#4d4d4d" stroke="#4d4d4d" stroke-width="0.3" text-anchor="end">-200</text>
<line x1="125.2" y1="922.7" x2="125.2" y2="926.3" stroke="#a0a0a0" stroke-width="1.6"/>
<text x="125.2" y="941.5" font-size="16.5" fill="#4d4d4d" stroke="#4d4d4d" stroke-width="0.3" text-anchor="middle">0</text>
<line x1="245.5" y1="922.7" x2="245.5" y2="926.3" stroke="#a0a0a0" stroke-width="1.6"/>
<text x="245.5" y="941.5" font-size="16.5" fill="#4d4d4d" stroke="#4d4d4d" stroke-width="0.3" text-anchor="middle">50</text>
<line x1="365.8" y1="922.7" x2="365.8" y2="926.3" stroke="#a0a0a0" stroke-width="1.6"/>
<text x="365.8" y="941.5" font-size="16.5" fill="#4d4d4d" stroke="#4d4d4d" stroke-width="0.3" text-anchor="middle">100</text>
<line x1="486.2" y1="922.7" x2="486.2" y2="926.3" stroke="#a0a0a0" stroke-width="1.6"/>
<text x="486.2" y="941.5" font-size="16.5" fill="#4d4d4d" stroke="#4d4d4d" stroke-width="0.3" text-anchor="middle">150</text>
<line x1="606.5" y1="922.7" x2="606.5" y2="926.3" stroke="#a0a0a0" stroke-width="1.6"/>
<text x="606.5" y="941.5" font-size="16.5" fill="#4d4d4d" stroke="#4d4d4d" stroke-width="0.3" text-anchor="middle">200</text>
<text x="402.7" y="964.7" font-size="20.6" fill="#1a1a1a" stroke="#1a1a1a" stroke-width="0.35" text-anchor="middle">Year 1 LV End-Systolic Volume Index (mL/m²)</text>
<text transform="translate(75.3 708.2) rotate(-90) scale(1 1.03)" x="0" y="0" font-size="20.5" fill="#1a1a1a" stroke="#1a1a1a" stroke-width="0.35" text-anchor="middle">Change in LVESVI from Year 1 to Year 4 (mL/m²)</text>
<text transform="translate(1.8 528) scale(0.95 1)" font-size="35" font-weight="bold" fill="#000" stroke="#000" stroke-width="0.8">B</text>
<line x1="142.2" y1="984.4" x2="142.2" y2="1414.7" stroke="#f6f6f6" stroke-width="1.5"/>
<line x1="246.2" y1="984.4" x2="246.2" y2="1414.7" stroke="#f6f6f6" stroke-width="1.5"/>
<line x1="350.2" y1="984.4" x2="350.2" y2="1414.7" stroke="#f6f6f6" stroke-width="1.5"/>
<line x1="454.2" y1="984.4" x2="454.2" y2="1414.7" stroke="#f6f6f6" stroke-width="1.5"/>
<line x1="558.2" y1="984.4" x2="558.2" y2="1414.7" stroke="#f6f6f6" stroke-width="1.5"/>
<line x1="662.2" y1="984.4" x2="662.2" y2="1414.7" stroke="#f6f6f6" stroke-width="1.5"/>
<line x1="123" y1="1084.5" x2="683" y2="1084.5" stroke="#f6f6f6" stroke-width="1.5"/>
<line x1="123" y1="1205.3" x2="683" y2="1205.3" stroke="#f6f6f6" stroke-width="1.5"/>
<line x1="123" y1="1326.1" x2="683" y2="1326.1" stroke="#f6f6f6" stroke-width="1.5"/>
<line x1="194.2" y1="984.4" x2="194.2" y2="1414.7" stroke="#f4f4f4" stroke-width="1.6"/>
<line x1="298.2" y1="984.4" x2="298.2" y2="1414.7" stroke="#f4f4f4" stroke-width="1.6"/>
<line x1="402.2" y1="984.4" x2="402.2" y2="1414.7" stroke="#f4f4f4" stroke-width="1.6"/>
<line x1="506.2" y1="984.4" x2="506.2" y2="1414.7" stroke="#f4f4f4" stroke-width="1.6"/>
<line x1="610.2" y1="984.4" x2="610.2" y2="1414.7" stroke="#f4f4f4" stroke-width="1.6"/>
<line x1="123" y1="1024.1" x2="683" y2="1024.1" stroke="#f4f4f4" stroke-width="1.6"/>
<line x1="123" y1="1144.9" x2="683" y2="1144.9" stroke="#f4f4f4" stroke-width="1.6"/>
<line x1="123" y1="1265.7" x2="683" y2="1265.7" stroke="#f4f4f4" stroke-width="1.6"/>
<line x1="123" y1="1386.6" x2="683" y2="1386.6" stroke="#f4f4f4" stroke-width="1.6"/>
<line x1="123" y1="1144.9" x2="683" y2="1144.9" stroke="#8a8a8a" stroke-width="2.6"/>
<path d="M147.9 1105.4h0M155.8 1105.4h0M154.9 1116.8h0M167.7 1089.1h0M170.7 1096.6h0M168 1103.7h0M175.9 1101.9h0M186.4 1098.4h0M196.1 1099.3h0M197.8 1086.1h0M202.2 1083.5h0M205.7 1087.9h0M210.1 1093.1h0M218 1090.5h0M224.1 1097.5h0M229.3 1087h0M231.1 1093.1h0M240.7 1094h0M245.1 1100.1h0M252.1 1091.4h0M259.1 1095.8h0M217.1 1096.6h0M214.5 1104.5h0M175.9 1158.8h0M190.8 1164.1h0M208.2 1174.2h0M252.9 1190.8h0M259.9 1186.4h0M265.1 1190.8h0M274.8 1187.3h0M271.2 1203.1h0M276.5 1201.3h0M279.1 1204.8h0M279.1 1195.2h0M261.7 1080.7h0M277.7 1080.7h0M274.1 1087.3h0M282.1 1104.1h0M285 1107h0M281.4 1115h0M317.2 1083.6h0M311 1090.9h0M306.6 1098.2h0M331 1100.4h0M332.9 1107.7h0M341.7 1110.4h0M342 1116.5h0M344.6 1120.1h0M299.6 1116.5h0M301.8 1124.5h0M308.4 1123.8h0M314.2 1125.3h0M319.3 1120.6h0M329.6 1131.8h0M341.2 1140.6h0M348.5 1135.5h0M330.3 1146.4h0M346.4 1147.9h0M323 1149.3h0M288 1192h0M293.8 1209.1h0M301.8 1183.6h0M302.6 1201.1h0M309.1 1180.7h0M314.2 1196.7h0M317.2 1201.1h0M319.3 1190.9h0M321.5 1193.1h0M325.2 1191.6h0M325.2 1210.6h0M320.1 1179.9h0M316.4 1171.2h0M321.5 1171.9h0M326.6 1168.2h0M329.6 1173.4h0M332.5 1178.5h0M339.1 1173.4h0M342 1180.7h0M334.7 1196.7h0M337.6 1201.8h0M340.5 1206.2h0M349.3 1177h0M333.9 1155.5h0M317.2 1155.8h0M325.9 1160.2h0M179 1037.5h0M191 1031.2h0M229.2 1057.5h0M243.1 1056.7h0M241.7 1060.6h0M250 1056.7h0M290.3 1053.9h0M306.9 1066.7h0M258.9 1070h0M234.5 1076.4h0M265.9 1076.4h0M231.2 1089.4h0M433.7 1004.2h0M373.5 1064.2h0M441.3 1090.8h0M384.7 1101.3h0M362.2 1103.6h0M363.7 1113h0M392.2 1124.1h0M432.9 1121.8h0M357.5 1132.8h0M369.8 1142.1h0M411 1140.2h0M354.9 1160.3h0M372.4 1156.1h0M371.5 1162.6h0M409.7 1162.2h0M353.1 1170.5h0M355.8 1178.4h0M353.1 1182.4h0M367.7 1177.2h0M354.4 1213.1h0M364 1214.8h0M375 1209.9h0M375.9 1219.2h0M374.2 1230.6h0M400.4 1209.6h0M438.6 1206.4h0M557.5 1150h0M448.6 1279.7h0M657.6 1396.1h0M265.6 1112.1h0M205.4 1131h0M230.1 1106.6h0M194 1133.7h0M307.2 1168.1h0M198.4 1115.7h0M242.6 1169.8h0M280.2 1151h0M250.9 1176.7h0M299.8 1152.9h0M173 1144.4h0M248.5 1123.7h0M217.3 1134.5h0M191.9 1121.7h0M183.2 1154.2h0M242.3 1149h0M277.4 1178.4h0M239.4 1129.8h0M206.6 1132.2h0M248.1 1138.3h0M269.3 1122.9h0M279.7 1124.5h0M302 1137.4h0M212.1 1151.4h0M282.5 1148.4h0M268.2 1180h0M309.8 1142.7h0M267 1145.5h0M253.2 1130.8h0M278.4 1147.7h0M217.1 1149.8h0M287.2 1184.8h0M248.8 1126.9h0M230.5 1150.2h0M258.1 1163.1h0M226.7 1113.4h0M218.1 1134.6h0M233.5 1164.8h0M186 1140h0M248.7 1129.3h0M304.8 1150.8h0M195.1 1135.4h0M199.7 1107.3h0M186.8 1106.4h0M259.4 1136.5h0M243.4 1166.4h0M214.6 1110.7h0M266.6 1181.2h0M176.6 1149.7h0M268.4 1131h0M212.4 1122.9h0M218.5 1109.1h0M174.1 1116.6h0M176.3 1117.2h0M282.8 1128.1h0M186.8 1157.9h0M233.2 1168h0M286.8 1177.3h0M217.2 1153.9h0M221.1 1137.8h0M286.4 1126.3h0M182.9 1132.2h0M220.8 1168.1h0M306.9 1143.4h0M269.8 1177.1h0M297.9 1150.2h0M219.8 1108.9h0M297.3 1172.3h0M216.8 1134.9h0M264.2 1114.4h0M234.2 1157.2h0M270.6 1161.2h0M232 1122.5h0M280.6 1164.4h0M195.2 1128h0M227.1 1122.9h0M285.3 1136.1h0M280.9 1152.5h0M230.2 1172.5h0M226.2 1148.9h0M301.1 1160.4h0M240.8 1177.9h0M239 1110.3h0M202.1 1138.2h0M166.2 1143.3h0M200.3 1121.5h0M218.6 1149.9h0M244.6 1117.5h0M169 1116.1h0M213.3 1117.2h0M188.4 1125.7h0M197.7 1160.7h0M216.5 1145h0M189 1105.8h0M278.5 1142.6h0M190.5 1105.5h0M198.2 1110.1h0M266.9 1150.3h0M275.7 1153.9h0M243.5 1125.4h0M268.4 1132.1h0M217.1 1136.7h0M208.7 1107.9h0M205.3 1127.4h0M307.5 1146.3h0M292.1 1167.8h0M219.9 1162.1h0M240.1 1132.1h0M210 1113h0M232.6 1111.5h0M240.4 1124.2h0M195.5 1154.8h0M227.7 1154.3h0M176.7 1107.1h0M290.6 1147.7h0M230.1 1118.8h0M235.6 1179.1h0M188.1 1122.4h0M276.2 1135h0M300.1 1152.3h0M186.2 1139.1h0M218.4 1157.1h0M307 1146.2h0M187 1108.2h0M270.5 1146.1h0M272.3 1158.8h0M260 1157.5h0M168.8 1137h0M250.5 1154.6h0M234.1 1123.2h0M277.9 1156h0M226.7 1140.7h0M267.9 1148.1h0M196.7 1128.9h0M249.9 1164.5h0M177.4 1122.7h0M247.6 1136.8h0M290.8 1143.1h0M223.3 1127.4h0M177.5 1109.7h0M210.9 1164.5h0M221.4 1122.4h0M229 1132.9h0M191.2 1156.4h0M178.4 1145.8h0M284.3 1148.9h0M219.3 1135h0M220.1 1163.4h0M162.5 1140.6h0M237.5 1114.8h0M279.6 1172.9h0M168.3 1136.1h0M175.3 1125.1h0M291.7 1132.5h0M194.1 1119.1h0M176.2 1152.6h0M233.3 1157.7h0M226.6 1121.4h0M244.2 1128.6h0M221.1 1132.1h0M312.3 1157.6h0M238.5 1164.6h0M256 1140.2h0M183.8 1150.1h0M294.5 1150.8h0M249.8 1169.9h0M289.7 1127.2h0M229.2 1147.6h0M181.8 1117.4h0M311.7 1149.9h0M248.4 1175.3h0M279.4 1161.1h0M240.6 1131.3h0M273.1 1165.8h0M183.4 1142.9h0M232.4 1148.1h0M245 1166.4h0M187.6 1103.3h0M283.6 1163.3h0M210.2 1122.6h0M274.7 1129.8h0M301.3 1157.4h0M294.8 1130.5h0M278.6 1160.5h0M228.7 1114.3h0M167.3 1123.6h0M242.8 1141.2h0M293.7 1140h0M314 1150.9h0M187.5 1134.1h0M241.4 1109.4h0M212.9 1166.6h0M258.2 1146.6h0M227.8 1147.7h0M172 1113.1h0M274.6 1134.1h0M221 1118.8h0M212.9 1125.1h0M215.1 1153.4h0M227.2 1128.1h0M229.9 1112.9h0M221 1154.7h0M266.7 1166.6h0M281.2 1139.7h0M258.1 1143.2h0M197.8 1148.1h0M294.5 1131h0M189.4 1157.5h0M175.8 1122.5h0M307.5 1146.1h0M256 1121.9h0M179.2 1121.9h0M272.2 1159.1h0M209.8 1118.4h0M239.6 1173.4h0M228.4 1140h0M291.2 1179.1h0M269.5 1144.5h0M275.2 1130.2h0M310.7 1155.1h0M270.8 1162.4h0M253.3 1160h0M220.6 1163.2h0M186.8 1125.3h0M249.8 1163.9h0M232.8 1147.8h0M166.3 1137.9h0M241.5 1156.9h0M312.8 1148h0M251.4 1181.1h0M229.6 1173.5h0M226 1151.7h0M255.6 1148.1h0M223.1 1146.2h0M307.4 1140.4h0M302.8 1158.2h0M294 1141.2h0M227.5 1110h0M203.9 1126.4h0M281.6 1167.5h0M226.7 1107.3h0M202.6 1130.3h0M240.4 1122h0M206.4 1161.3h0M162.9 1140.4h0M281.2 1130.8h0M202.3 1148.5h0M194.1 1147.4h0M220.2 1154.6h0M306.7 1139.8h0M259.6 1120.6h0M177 1153.1h0M162.2 1138.4h0M207.2 1163.4h0M185.5 1127.8h0M230.3 1123.7h0M268.2 1123.9h0M270.1 1163h0M294.8 1140.7h0M259.8 1129.5h0M296.5 1169.5h0M240.2 1129.9h0M287.3 1146.3h0M165.5 1118.1h0M206.1 1115.9h0M292.1 1177.4h0M165.4 1141.3h0M257.6 1122h0M254.6 1121h0M213.1 1108.1h0M293.5 1156.1h0M187.9 1107.7h0M281.1 1154.4h0M258.8 1162.7h0M238 1162.5h0M235 1146h0M203.2 1137h0M271 1172.9h0M275.7 1140.1h0M205.7 1161.6h0M205 1107.7h0M201.5 1109.2h0M289.7 1163h0M255.7 1177h0M283.9 1134.3h0M281.9 1152.9h0M244.3 1117.2h0M317.4 1150.4h0M248.2 1169.1h0M222.1 1146.1h0M223.7 1113.1h0M235.7 1114.3h0M243.7 1148.2h0M169.5 1146.7h0M188.8 1142.3h0M299 1138.8h0M207.2 1166.7h0M222.3 1152.7h0M205.5 1131.4h0M242.3 1126.5h0M206.4 1150.6h0M288.4 1141.1h0M160.5 1126h0M270.5 1116.7h0M210.1 1141h0M236.1 1177.1h0M205.6 1146.1h0M186.8 1120.7h0M224.1 1126.4h0M307.5 1142.1h0M242.1 1158.8h0M269.6 1111.4h0M243.6 1181.2h0M229.5 1159.2h0M283.7 1168.6h0M245 1123.8h0M191 1146h0M287.4 1168.7h0M205.3 1126.6h0M226 1164h0M235.4 1157.5h0M209.7 1120.2h0M212.4 1149.3h0M233.6 1173.3h0M201.9 1113.8h0M228.5 1110.6h0M175.2 1139.9h0M181.4 1127.9h0M255.6 1175.1h0M187.2 1135.2h0M226.6 1155.1h0M245.7 1138.2h0M193.3 1133.6h0M315.9 1145.1h0M166.8 1120.9h0M268.2 1166h0M209.8 1136.8h0M209.6 1113.5h0M263.8 1163.8h0M316.9 1149.2h0M192 1151.6h0M163.6 1121.3h0M275 1153.7h0M256.7 1155.9h0M168.8 1121.8h0M258.6 1129.7h0M229.1 1153.4h0M309.4 1161.7h0M194.2 1121.2h0M263.3 1163h0M282.6 1179.7h0M261 1173.5h0M254.2 1165.5h0M295.8 1155.8h0M178.7 1154.8h0M294.6 1133.5h0M241.3 1137.1h0M273.3 1162.1h0M249.5 1122.9h0M200 1126.6h0M243.6 1182.6h0M303.8 1138.1h0M239.2 1143.8h0M181.2 1123.4h0M197.9 1122.8h0M178.1 1116.8h0M197.7 1112h0M316.8 1143.7h0M234 1166.2h0M308.4 1154.8h0M174.6 1126.2h0M226.4 1126.3h0M231.7 1142.2h0M211.1 1135.3h0M287.3 1140.6h0M238.9 1147.2h0M277.4 1134.5h0M295.8 1147.6h0M192.2 1117.8h0M247.8 1155.6h0M181.6 1119.8h0M201 1126h0M215.3 1166.8h0M279.5 1156.4h0M252.2 1180.4h0M213.4 1153.3h0M246.5 1163.4h0M233.2 1109.5h0M246.7 1182.3h0M200 1123.4h0M246 1107h0M242.6 1130.5h0M163.9 1137.2h0M283.3 1183.5h0M219.9 1130.8h0M190.2 1114.1h0M251.3 1151.5h0M265.1 1112.9h0M179.4 1150.9h0M245.4 1125h0M196.8 1160h0M199 1132h0M304.3 1163.6h0M232.4 1115.3h0M280.6 1176.5h0M208.1 1144.3h0M214.3 1162.4h0M298.8 1158.7h0M196.3 1136.1h0M219.1 1161h0M184.4 1124.7h0M188.2 1131.8h0M211.9 1134h0M247.5 1157.4h0M288.2 1126.6h0M171.3 1135.5h0M202.2 1139.2h0M171.5 1118.1h0M188.7 1146.1h0M222.7 1109.8h0M195.1 1132.7h0M172.7 1140.7h0M206.8 1125.4h0M210 1131.7h0M236.2 1171.2h0M272.9 1150.5h0M203.9 1118.5h0M181.6 1157.1h0M189.3 1122.2h0M266 1152.1h0M183.9 1110.6h0M164.1 1118.6h0M246.3 1136.5h0M270.9 1112h0M296.5 1136.3h0M223.6 1170.2h0M202 1106.8h0M209.8 1140.4h0M174.2 1113.9h0M182.6 1105.2h0M202.8 1133.4h0M207.7 1154.8h0M204.8 1105.7h0M299.8 1136.1h0M264.6 1121.8h0M260.3 1118.9h0M252 1134.2h0M285 1134.7h0M260.6 1155h0M203.4 1145.7h0M171 1125.6h0M196.1 1122.2h0M252.1 1164.6h0M247.5 1121.4h0M194 1160h0M197.9 1156.9h0M239.2 1129.2h0M245.7 1121.4h0M262.5 1150.5h0M266.1 1116.2h0M192.1 1129.1h0M252.2 1121.9h0M265.7 1134.4h0M287.2 1129.1h0M238.7 1179.6h0M228.7 1174.3h0M229 1107.7h0M226.1 1154.7h0M289.4 1168.5h0M275.3 1157.6h0M221.4 1145.7h0M178 1130.9h0M282.1 1147.1h0M276.2 1126.7h0M271.1 1114.8h0M193.5 1145.1h0M244 1170.7h0M246.1 1173.6h0M293 1151.1h0M169.2 1125.3h0M227.2 1110.2h0M247.6 1129.4h0M224.9 1162.7h0M282.5 1166.3h0M177.6 1144.5h0M273.8 1154.6h0M185.3 1127.8h0M260.1 1125.9h0M303.1 1163.1h0M236.3 1112.6h0M184.9 1128.4h0M175.8 1148.8h0M223.4 1161.5h0M218.7 1159h0M228.9 1151.9h0M172.6 1146.8h0M183.2 1156h0M270.2 1184.4h0M264.2 1129.8h0M255.7 1162h0M221.3 1153.4h0M279.7 1184.6h0M251.1 1131.9h0M256.1 1172.2h0M295.1 1168.5h0M272.9 1156.2h0M234.1 1113.2h0M289.6 1140.2h0M261.1 1124.3h0M271.6 1147.9h0M210.3 1137.1h0M208.2 1148.7h0M171.8 1127.3h0M177.5 1109.7h0M258.3 1114.1h0M274.5 1171.5h0M186.2 1150h0M206.9 1119.8h0M255.7 1133.3h0M281.1 1181.4h0M201.2 1142.2h0M237.1 1159.9h0M189.5 1105.6h0M166.7 1116.3h0M248.1 1151.8h0M271.1 1155h0M176.7 1127.8h0M170.5 1144.7h0M245.3 1130.1h0M204.2 1138.5h0M207 1164.4h0M253.5 1124.4h0M270.3 1140.8h0M179.5 1124.3h0M194.9 1139.6h0M261.2 1153.7h0M235.3 1111.1h0M270 1176.3h0M250.4 1182.4h0M227.7 1122.4h0M278.6 1122h0M264.4 1141.1h0M206.5 1112.2h0M285.1 1170.6h0M302.3 1158.2h0M238.8 1173h0M212.4 1140h0M295.6 1171.2h0M305.2 1154.7h0M236.9 1158.6h0M254.9 1124.6h0M287.5 1182.4h0M225.4 1126.4h0M172.1 1108.6h0M263.8 1151.6h0M225.5 1130.7h0M172.9 1143.2h0M180.5 1129.4h0M168.2 1144.4h0M237.3 1159.6h0M178.6 1154.9h0M222.3 1140.3h0M277.7 1119h0M258.2 1172.8h0M253.4 1107.3h0M228.8 1151.4h0M246.1 1169.3h0M292.4 1158.6h0M209.7 1106.4h0M242.5 1108.8h0M242.1 1179.8h0M224.5 1109.8h0M168.8 1115.1h0M245.6 1162.7h0M217.7 1141.5h0M292.3 1140.8h0M204.7 1107.4h0M212.1 1146.8h0M305 1145.9h0M253.5 1142.5h0M201.2 1153.8h0M251 1145.2h0M210.7 1109.8h0M213.9 1168.1h0M282.7 1181.5h0M268.2 1110.9h0M233.9 1134.3h0M189.2 1112h0M276.7 1122.1h0M266.4 1173.4h0M230.3 1127.5h0M189.2 1114.4h0M181 1133.7h0M242.7 1174.6h0M298.2 1172.3h0M171.8 1134.1h0M223.5 1140.2h0M183.1 1155.2h0M289.7 1146.2h0M203.1 1111h0M270.7 1120.7h0M181.2 1139.3h0M178.3 1131.9h0M263.8 1141.4h0M167.7 1125.8h0M238.9 1109.9h0M285.2 1185h0M244.5 1133.2h0M190.2 1124.8h0M307.4 1157.6h0M259.8 1126.6h0M237.8 1106.3h0M254 1173.5h0M208.3 1141.5h0M245.5 1141.1h0M220.6 1108.3h0M255 1166.7h0M301 1173.5h0M237.2 1136.1h0M270.1 1116h0M238.5 1174.4h0M174.3 1117.7h0M284 1135h0M192.5 1144h0M279.6 1175.3h0M225.4 1104.3h0M251 1147.7h0M183.1 1105.4h0M251 1177.4h0M296.4 1151.9h0M262.3 1164.7h0M213.8 1153.1h0M259.6 1110.7h0M229.9 1145.5h0M279.1 1159.9h0M294.8 1162.9h0M237.7 1168.2h0M267.1 1116.6h0M199.4 1145.6h0M264.6 1166.1h0M302.4 1136.8h0M257.4 1141.1h0M272.9 1122.5h0M227.8 1142.4h0M295.4 1177.1h0M188.1 1125.7h0M254.1 1127.8h0M171.6 1130.1h0M231.8 1128.3h0M229.5 1151.6h0M268.5 1173.3h0M252.7 1148h0M226.8 1125h0M242.5 1165.8h0M303.6 1145.2h0M203.4 1155.6h0M240.8 1125h0M164.4 1119.2h0M268.6 1170.8h0M194.6 1114h0M166.2 1136.3h0M233.3 1164.7h0M245 1126.5h0M274.3 1114.7h0M294.1 1146.7h0M198.8 1119.5h0M251.7 1116.8h0M258.6 1134.1h0M232 1132.4h0M223.4 1131.4h0M288.8 1134.8h0M258.5 1180h0M292.2 1148.9h0M268.3 1132.4h0M202.5 1122.8h0M219.2 1163.9h0M275.7 1173.4h0M253.2 1157.8h0M260.5 1168.6h0M189.4 1131.7h0M216.9 1110h0M229.1 1152.5h0M234.5 1168.9h0M258.2 1140.3h0M284.1 1135.9h0M220.7 1137.5h0M249.8 1118.3h0M175.8 1140.4h0M200.3 1113.5h0M271.2 1174h0M207 1103.9h0M262.8 1133.4h0M177.1 1116.2h0M267.1 1173.7h0M294.1 1145.9h0M177 1128h0M237.2 1109.8h0M233 1164.3h0M229.2 1109.1h0M289.2 1133.9h0M210.5 1128.2h0M226.4 1147.7h0M270 1167.3h0M234.9 1116.9h0M222.1 1164h0M198.7 1130.3h0M245.5 1166.9h0M193.1 1115.2h0M290.3 1148.9h0M181.5 1136h0M265.6 1151.4h0M192.5 1126.8h0M183.1 1107.2h0M202.7 1108.2h0M205.1 1118.5h0M293.6 1127.4h0M276.5 1135.1h0M240.3 1179.1h0M202.7 1103.4h0M217.9 1161.4h0M272.3 1127.3h0M211.7 1142.8h0M190.1 1134.4h0M295.8 1165.6h0M251.5 1155.1h0M275.8 1127.8h0M294 1143.8h0M298 1172.4h0M178.5 1133.1h0M230.9 1152.1h0M248.8 1111h0M296.5 1145.1h0M214.3 1108.8h0M191.3 1159.8h0M274.1 1158.3h0M265.6 1146.2h0M291.4 1175.5h0M196.7 1105.1h0M266.1 1125.7h0M233.3 1142.6h0M191.7 1160.9h0M217.3 1128h0M220.9 1121.7h0M274.7 1155.7h0M239.6 1144h0M212 1159.4h0M218.8 1141.4h0M221.5 1170.3h0M237.8 1136.6h0M189.6 1137.8h0M247.1 1153.6h0M200.2 1116.6h0M204.8 1153.7h0M301.5 1135.2h0M221.5 1130.6h0M224.7 1146.2h0M273.6 1177.3h0M255.9 1158.2h0M272.3 1171.1h0M275.1 1140.4h0M275 1133.8h0M277.5 1116.7h0M211.8 1162.4h0M254.9 1169.3h0M263.8 1150.1h0M235.2 1157.5h0M245.5 1167.9h0M193.2 1116.8h0M302.4 1153.4h0M208 1110.7h0M220.1 1144.1h0M249.9 1167.4h0M205.3 1140.3h0M282.9 1145.3h0M238.1 1154h0M251.7 1173h0M247.1 1112.3h0M263.6 1134.9h0M258.2 1141h0M285.3 1152.8h0M213.6 1130.3h0M219.5 1152.2h0M265.8 1122.9h0M197.6 1105.2h0M207.2 1131.7h0M200.4 1122.6h0M264.8 1148.4h0M169.8 1118h0M181.5 1145.3h0M246.3 1105.9h0M223.6 1124.8h0M228.3 1168.9h0M180.4 1142.3h0M244.8 1111.5h0M207.7 1104.3h0M247.9 1137.9h0M223.3 1155.6h0M253.8 1142h0M252.7 1167.4h0M301.5 1148.6h0M224.9 1160.3h0M269.6 1142.2h0M185.7 1145.4h0M193.6 1107.4h0M176.1 1142.6h0M208.3 1168.7h0M247.6 1171.4h0M242.6 1111.8h0M279.6 1154h0M214.8 1122.8h0M290.9 1131.8h0M220.8 1116.8h0M174.2 1119.6h0M268.2 1169.4h0M202.3 1165.3h0M182.4 1117.5h0M244.8 1155h0M217.2 1162.5h0M275.1 1153.1h0M196.7 1149.8h0M200.1 1120.3h0M231.7 1135.6h0M192.8 1147.6h0M174.5 1119.2h0M216.4 1146.1h0M226.3 1170.4h0M299.1 1145.1h0M203.9 1113.5h0M205.5 1157.5h0M206.8 1163.4h0M223.9 1113.9h0M244 1126.9h0M267.5 1177.8h0M211 1133.9h0M181.1 1150.2h0M283.9 1180.3h0M206.7 1167.1h0M171.7 1148.7h0M267.4 1124.4h0M189.2 1132.2h0M294.5 1169.1h0M206.3 1143.1h0M285.6 1158.1h0M245.2 1109.1h0M274.8 1126.3h0M211.8 1148.2h0M270.1 1127.9h0M248.8 1133.9h0M276.3 1147.4h0M173.3 1142.7h0M192.4 1142.5h0M214.4 1157.5h0M271.5 1128.9h0M190.9 1110.8h0M281.5 1119.2h0M181.1 1117.4h0M257 1136.7h0M188.5 1137h0M250 1145.1h0M235 1110.1h0M218 1133.9h0M281.6 1160.5h0M200.7 1146.5h0M279.7 1178.7h0M284.1 1129.3h0M216.9 1108.3h0M285.4 1155.2h0M180.3 1111h0M259.3 1176.3h0M187.2 1142.2h0M229.4 1104.7h0M239.8 1155.8h0M199.7 1130.9h0M239.2 1130.9h0M167.5 1126.3h0M202.7 1129.3h0M195.7 1142.2h0M252.3 1172.4h0M272.5 1175.6h0M245.2 1143h0M249.7 1164.4h0M265.2 1175h0M242.6 1132.7h0M175.9 1109.6h0M196.6 1143.1h0M253.7 1134.4h0M306.2 1156.9h0M273.8 1138.7h0M208.3 1138.6h0M177.6 1110.2h0M269 1165.7h0M237.1 1157.5h0M212.2 1138.8h0M238.2 1108.5h0M249.7 1141.7h0M166.1 1115.5h0M232 1158.7h0M185 1137.6h0M220.9 1129.9h0M253.5 1178h0M252.9 1141.8h0M211.4 1168h0M224.8 1162h0M246.5 1116.6h0M258.4 1173.5h0M224.1 1143.3h0M244.2 1134.7h0M177.3 1129.2h0M257.1 1127.7h0M253.7 1123.1h0M204.4 1114.5h0M242.8 1169.9h0M263.9 1125.2h0M167.7 1128.1h0M188.5 1113.6h0M172.1 1121.4h0M255.3 1111.6h0M249.8 1155.2h0M197.4 1115.9h0M209.3 1149.7h0M279.5 1147.3h0M235.9 1119.5h0M229.6 1149.2h0M184 1153.6h0M189.8 1124.5h0M167.8 1132.4h0M237.8 1161.9h0M248.5 1158.7h0M189.1 1118.5h0M199.6 1132.7h0M257.6 1137h0M266.1 1119.6h0M210.9 1124.2h0M233.8 1133.5h0M215.9 1132.9h0M202.5 1163.4h0M278.6 1137.5h0M221.8 1154.9h0M260.3 1113.1h0M232.4 1110h0M185.3 1119.6h0M245.9 1112.2h0M204.7 1132.4h0M178.1 1137.5h0M182.9 1116h0M191.8 1158h0M226.4 1140.7h0M256.9 1114.1h0M203.5 1161h0M189.5 1154.3h0M243.5 1129.2h0M250.1 1161h0M275.9 1169.3h0M237.5 1176.1h0M217.1 1110.3h0M174.2 1129h0M274.9 1175.9h0M219.2 1119.9h0M227.1 1121.2h0M244.3 1129.8h0M214.4 1153.2h0M179.3 1114.3h0M214.9 1134.1h0M230.9 1154.4h0M238.9 1113.7h0M253.7 1162.7h0M228.8 1137.7h0M180 1111.5h0M184.1 1137.6h0M185.9 1112.3h0M257.3 1157.4h0M223.4 1121.8h0M225.4 1169.6h0M273.2 1166.7h0M246.6 1124.3h0M206.7 1128.6h0M271.9 1179.6h0M227.4 1164.9h0M211.9 1165.2h0M182.7 1151.1h0M225.6 1144.5h0M173.2 1139.2h0M266.8 1158.6h0M217.8 1164.5h0M195.7 1116.3h0M190.5 1154.3h0M234.8 1117.5h0M272 1135.9h0M178.3 1124.9h0M216.4 1139.7h0M229.5 1141.7h0M230.7 1133.1h0M257.9 1169.3h0M186 1139.8h0M282.3 1162.7h0M268.8 1118.7h0M209.9 1159.1h0M214.8 1122.3h0M249.9 1176.7h0M165.7 1124h0M241.7 1166.2h0M240.4 1108.4h0M190.2 1133.3h0M183.2 1112.6h0M173.4 1113.5h0M253.8 1162.3h0M173.7 1114.5h0M263.4 1181.6h0M263 1140.2h0M181.4 1130.7h0M228.5 1172.2h0M276.1 1129.5h0M192.4 1104.9h0M241.5 1156.4h0M218.3 1125.3h0M281.1 1165.4h0M187.8 1137h0M198.5 1154.4h0M204.4 1155.7h0M189 1105.8h0M277.7 1148.6h0M233.8 1129.9h0M190 1147.2h0M235.7 1132.4h0M196.8 1123.5h0M185.8 1148.3h0M229.9 1169.6h0M240.7 1150.5h0M201.7 1148.6h0M238.4 1139.1h0M175.9 1118.8h0M202.2 1104.2h0M218.4 1147.1h0M237.3 1115.3h0M273.7 1160.4h0M270.4 1176.6h0M240.4 1171.5h0M228.9 1144.8h0M215.8 1142.4h0M208.7 1108.3h0M238 1157h0M262.5 1164.1h0M268.5 1126h0M196.8 1112.9h0M259.4 1166.2h0M212.6 1160.7h0M197.5 1123.6h0M221.1 1144.9h0M270.9 1148.3h0M167.3 1115.4h0M257.1 1127.5h0M264.6 1169.9h0M224.4 1162.1h0M197.1 1160.8h0M207.8 1121.8h0M241.6 1129.3h0M246.2 1118.6h0M267.5 1166.6h0M269.9 1134.1h0M261 1177.7h0M246.4 1168.3h0M201.5 1109.2h0M187.7 1136h0M218.4 1127.5h0M241 1150.1h0M207 1147.2h0M194.8 1137.8h0M176.1 1136.1h0M223.7 1172.2h0M257.3 1132.2h0M275.9 1164h0M176.4 1151.1h0M189.5 1156.3h0M189.3 1121.7h0M263 1130.4h0M208.9 1144.7h0M205.7 1162.2h0M239 1158.3h0M172.4 1126.3h0M178.1 1146.8h0M214.7 1123.8h0M268.8 1161.8h0M183.3 1108.1h0M250.1 1125.8h0M255.9 1127.2h0M252.3 1165.9h0M183.5 1154.6h0M263.2 1115.9h0M257.7 1178.1h0M260.5 1139.7h0M192.3 1139.1h0M266.7 1136.2h0M186.4 1114.7h0M274.3 1169.1h0M264.7 1132.6h0M244.4 1135h0M236.5 1146.7h0M173.4 1114.2h0M243.1 1158.5h0M275.5 1153h0M244.2 1121.8h0M214.6 1152.7h0M263.4 1141.3h0M270.2 1170h0M194.9 1134.8h0M258.5 1117.6h0M261.3 1164.4h0M229.4 1170.8h0M242 1167.2h0M210.2 1116.1h0M220.1 1151.8h0M212.1 1110.9h0M237.2 1125.4h0M204.5 1163.4h0M273.9 1149h0M204.5 1110.6h0M169.6 1114h0M210.4 1133.4h0M182.2 1122.6h0M207.6 1109.8h0M178.5 1121.7h0M193.2 1151.6h0M165 1128.8h0M220.6 1136h0M254.8 1166.1h0M169 1133.5h0M252.8 1111.6h0M164.6 1116.4h0M223.5 1157.6h0M278.3 1134.2h0M239.7 1117.9h0M215.5 1128.2h0M253.6 1169h0M215.6 1150.2h0M263.3 1171.1h0M264.6 1156.9h0M199.6 1162.9h0M222.9 1147h0M219.8 1134.7h0M179.9 1141.2h0M178.6 1108.5h0M215.9 1105.1h0M193.1 1131.7h0M238 1169.6h0M211.6 1147.9h0M258.2 1150.2h0M262.7 1113.1h0M240.9 1154.9h0M229.9 1156.6h0M189.1 1139.8h0M205.4 1125.1h0M195.2 1138.6h0M270.9 1131.7h0M188.1 1139.7h0M234.9 1175.2h0M237.4 1133.7h0M268.4 1151.1h0M205.5 1134.8h0M234.2 1137.3h0M210.2 1108.8h0M225.1 1151.2h0M256.6 1112.5h0M254.1 1150h0M255.2 1144.3h0M250.7 1174.3h0M251.6 1173.9h0M192 1114.8h0M270.2 1154.7h0M210.9 1122.4h0M244.9 1147.4h0M196.9 1128.6h0M186.5 1135.1h0M245 1117.7h0M242.8 1165.4h0M215.1 1111.5h0M205.1 1107.7h0M243.2 1131.3h0M258.8 1154.6h0M266.5 1137.1h0M240.1 1160h0M241.9 1114.5h0M264.4 1172.6h0M279.5 1132.6h0M187.2 1152.9h0M170.7 1120.5h0M192.4 1119.1h0M190.8 1135.6h0M196.6 1123.2h0M208.7 1120h0M230.4 1128.7h0M193.9 1143.2h0M258 1180h0M246.3 1141.7h0M185.8 1127.4h0M241.9 1165.8h0M239.9 1176.9h0M240.4 1108.4h0M206.7 1109h0M232.7 1144h0M236.1 1132h0M255.8 1133.5h0M196 1120.8h0M176.1 1141.9h0M241 1148.1h0M230.9 1127.2h0M179.7 1144.8h0M202.3 1141.1h0M194.7 1138.8h0M267.9 1134.9h0M182.6 1140.4h0M277.3 1152.1h0M243.3 1139.6h0M232.3 1168.4h0M231.6 1108.1h0M206.6 1137.5h0M217.8 1115.4h0M231.6 1129.2h0M234.1 1143.1h0M211 1154.1h0M217.2 1169.2h0M213 1126h0M209 1127.8h0M250.6 1160h0M253.7 1147.9h0M201.4 1107h0M174 1130h0M237.5 1176.6h0M269 1129.1h0M193.8 1142.7h0M199.8 1159.5h0M177.3 1114.4h0M277.2 1150.2h0M222.5 1132.4h0M208.7 1120.4h0M224.1 1157.1h0M226.2 1171.6h0M179.5 1116.1h0M190.6 1126.9h0M172.4 1119.6h0M207.7 1120.9h0M279.7 1162.3h0M245 1124h0M223.3 1121h0M253 1180.5h0M178.8 1137.6h0M192.2 1147.1h0M259.8 1153.6h0M274.7 1140.5h0M204.7 1126.7h0M250.9 1131.6h0M221.3 1137.4h0M198.5 1109.3h0M201.1 1143h0M251 1153.2h0M205.1 1144.3h0M252 1128.1h0M179.9 1139.6h0M187.7 1143.8h0M266.2 1128.9h0M236.4 1149.2h0M207.7 1142h0M267.9 1145.5h0M191.5 1146.1h0M177.6 1144.1h0M245.6 1113.6h0M187.9 1143.2h0M238.4 1158.6h0M218.3 1142.4h0M238.3 1154.8h0M204.4 1133.1h0M187.2 1156.1h0M212.2 1125.6h0M203.8 1151.8h0M173.9 1137.6h0M250.9 1137.4h0M203.5 1140.5h0M247.6 1154.7h0M230.7 1127.2h0M211.2 1163.5h0M249.5 1127.2h0M181.1 1134.6h0M217.3 1157.5h0M166.7 1132h0M237.9 1170.5h0M265.9 1144h0M221.8 1110.9h0M243.1 1121.3h0M222.4 1106h0M168.4 1119.6h0M254.4 1141h0M243.8 1109.7h0M182.4 1107h0M275.2 1140h0M261.8 1162h0M229.7 1130.6h0M253.6 1142.5h0M178.5 1116.3h0M221.9 1151.8h0M208.6 1105.4h0M184.8 1145h0M255.3 1121.8h0M255.6 1154h0M218.9 1155.3h0M200.3 1147h0M251.3 1114.3h0M196.5 1145.5h0M193.2 1115.3h0M260.1 1148.4h0M248.6 1174.6h0M252 1115.6h0M166.2 1126.4h0M260.9 1121.4h0M181.7 1140h0M205.5 1113.3h0M192.3 1149.6h0M254.3 1159.7h0M218.2 1165.8h0M210.7 1146.9h0M257.5 1155.5h0M258.3 1138.9h0M165.6 1136h0M258.5 1118h0M221.8 1126h0M184.5 1115.9h0M218.2 1155.7h0M211.2 1105.4h0M207.2 1148.7h0M258.5 1155.7h0M165.9 1117.3h0M211.5 1120.6h0M237.4 1116.7h0M186.4 1149.7h0M247 1158.4h0M204.9 1157.7h0M247.4 1123.9h0M254.7 1120.6h0M270 1146.4h0M271.1 1179.1h0M196.1 1125.2h0M207.7 1154.8h0M167.8 1114.3h0M227.5 1113.7h0M267.6 1119.9h0M183.9 1128.3h0M221 1117.7h0M249.3 1143.6h0M254.6 1118.9h0M179.4 1126.3h0M240 1177.7h0M215.2 1151.5h0M265.1 1163.6h0M191.1 1144h0M210.8 1122.2h0M273.3 1175.8h0M214.2 1127.6h0M195 1152.8h0M217.2 1164.2h0M223.5 1132.5h0M206.1 1162h0M249.3 1115h0M266.6 1162.3h0M207.9 1111.4h0M254.6 1165.4h0M191.7 1138.2h0M209.9 1143.7h0M251.8 1131.9h0M221 1163.8h0M192.3 1136h0M212.6 1161.7h0M227.5 1119.7h0M206.1 1160.2h0M213.3 1107.8h0M202.5 1155h0M265.7 1168.8h0M225.7 1121.2h0M215 1139.3h0M228.9 1125.1h0M272.4 1126.4h0M254.7 1137.7h0M205.2 1124.1h0M255 1168.1h0M174.8 1134.5h0M167.2 1130.2h0M193.3 1114.2h0M192.7 1147.1h0M252.6 1178.9h0M244.3 1122.6h0M181.4 1153.5h0M202.7 1156.6h0M283.3 1146h0M215.3 1113.4h0M267.5 1172.7h0M245.1 1164h0M233.2 1120.4h0M217.8 1127.6h0M189 1127.4h0M265.5 1126.6h0M195.7 1159.8h0M259.1 1143.8h0M200.7 1105.9h0M215.2 1146.4h0M265 1143.6h0M277 1160.5h0M225.4 1169.7h0M182.6 1107.4h0M260.1 1141.6h0M219.8 1168.8h0M175.8 1147.1h0M242 1128.8h0M252.2 1113.9h0M248.2 1117.9h0M261.5 1150h0M172.4 1120.8h0M231 1148.7h0M253.4 1156.9h0M217.8 1129.4h0M212.1 1154.7h0M191 1149.4h0M240.2 1126.3h0M223.2 1106.3h0M265.7 1153.2h0M188 1149.8h0M245.2 1172.5h0M217.5 1118h0M250.6 1160h0M232.5 1109.6h0M234.6 1160.5h0M222.3 1123.4h0M222.2 1116.1h0M173.5 1124.9h0M218.9 1146.8h0M208.6 1128h0M203.8 1105.8h0M238.2 1169.4h0M246.6 1169.4h0M271.4 1149.7h0M209.5 1137.5h0M251.1 1122.8h0M249.3 1172.6h0M221 1165.7h0M239 1174.9h0M229.2 1135.8h0M214.4 1126.7h0M243.3 1123.1h0M203.7 1143.7h0M218.1 1118.2h0M192.1 1147.9h0M203.1 1159h0M275.4 1128.7h0M243.2 1145.2h0M185 1125.1h0M215.6 1141.8h0M236.5 1134.2h0M177.7 1137.9h0M230.8 1162.6h0M261.8 1120.5h0M234.4 1117.4h0M253 1128.6h0M172.5 1134h0M189.4 1153.3h0M174.5 1129h0M244.2 1141.4h0M183.5 1110.1h0M174.2 1143.6h0M221.1 1154.1h0M212.6 1122h0M251 1157.1h0M246.2 1137.4h0M280.9 1139.3h0M224.9 1120h0M240.2 1117.4h0M199.3 1113h0M225.3 1129.3h0M271.7 1147.3h0M197.1 1122h0" stroke="#000" stroke-width="5" stroke-linecap="round"/>
<line x1="147.8" y1="1128.8" x2="657.2" y2="1222.8" stroke="#ff0000" stroke-width="2.6" stroke-linecap="round"/>
<rect x="123" y="984.4" width="560" height="430.3" fill="none" stroke="#b0b0b0" stroke-width="1.6"/>
<line x1="119.4" y1="1024.1" x2="123" y2="1024.1" stroke="#a0a0a0" stroke-width="1.6"/>
<text x="117.2" y="1030.1" font-size="16.5" fill="#4d4d4d" stroke="#4d4d4d" stroke-width="0.3" text-anchor="end">100</text>
<line x1="119.4" y1="1144.9" x2="123" y2="1144.9" stroke="#a0a0a0" stroke-width="1.6"/>
<text x="117.2" y="1150.9" font-size="16.5" fill="#4d4d4d" stroke="#4d4d4d" stroke-width="0.3" text-anchor="end">0</text>
<line x1="119.4" y1="1265.7" x2="123" y2="1265.7" stroke="#a0a0a0" stroke-width="1.6"/>
<text x="117.2" y="1271.7" font-size="16.5" fill="#4d4d4d" stroke="#4d4d4d" stroke-width="0.3" text-anchor="end">-100</text>
<line x1="119.4" y1="1386.6" x2="123" y2="1386.6" stroke="#a0a0a0" stroke-width="1.6"/>
<text x="117.2" y="1392.6" font-size="16.5" fill="#4d4d4d" stroke="#4d4d4d" stroke-width="0.3" text-anchor="end">-200</text>
<line x1="194.2" y1="1414.7" x2="194.2" y2="1418.3" stroke="#a0a0a0" stroke-width="1.6"/>
<text x="194.2" y="1433.5" font-size="16.5" fill="#4d4d4d" stroke="#4d4d4d" stroke-width="0.3" text-anchor="middle">50</text>
<line x1="298.2" y1="1414.7" x2="298.2" y2="1418.3" stroke="#a0a0a0" stroke-width="1.6"/>
<text x="298.2" y="1433.5" font-size="16.5" fill="#4d4d4d" stroke="#4d4d4d" stroke-width="0.3" text-anchor="middle">100</text>
<line x1="402.2" y1="1414.7" x2="402.2" y2="1418.3" stroke="#a0a0a0" stroke-width="1.6"/>
<text x="402.2" y="1433.5" font-size="16.5" fill="#4d4d4d" stroke="#4d4d4d" stroke-width="0.3" text-anchor="middle">150</text>
<line x1="506.2" y1="1414.7" x2="506.2" y2="1418.3" stroke="#a0a0a0" stroke-width="1.6"/>
<text x="506.2" y="1433.5" font-size="16.5" fill="#4d4d4d" stroke="#4d4d4d" stroke-width="0.3" text-anchor="middle">200</text>
<line x1="610.2" y1="1414.7" x2="610.2" y2="1418.3" stroke="#a0a0a0" stroke-width="1.6"/>
<text x="610.2" y="1433.5" font-size="16.5" fill="#4d4d4d" stroke="#4d4d4d" stroke-width="0.3" text-anchor="middle">250</text>
<text x="403" y="1456.7" font-size="20.6" fill="#1a1a1a" stroke="#1a1a1a" stroke-width="0.35" text-anchor="middle">Year 1 LV End-Diastolic Volume Index (mL/m²)</text>
<text transform="translate(75.3 1199.5) rotate(-90) scale(1 1.03)" x="0" y="0" font-size="20.5" fill="#1a1a1a" stroke="#1a1a1a" stroke-width="0.35" text-anchor="middle">Change in LVEDVI from Year 1 to Year 4 (mL/m²)</text>
<text transform="translate(2.6 1016.5) scale(0.92 1)" font-size="35" font-weight="bold" fill="#000" stroke="#000" stroke-width="0.8">C</text>
</g>
</svg></body></html>
